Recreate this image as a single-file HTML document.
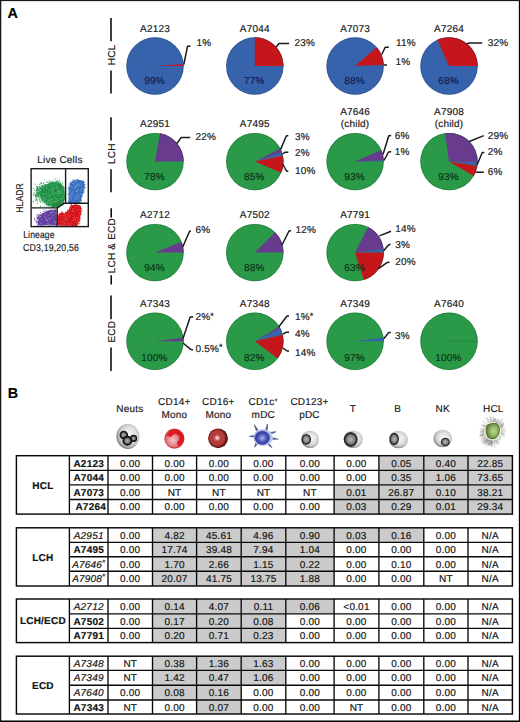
<!DOCTYPE html>
<html><head><meta charset="utf-8"><title>Figure</title>
<style>
html,body{margin:0;padding:0;background:#fff;}
svg{display:block;font-family:'Liberation Sans', sans-serif;text-rendering:geometricPrecision;}
text{letter-spacing:0.2px;stroke:#1a1a1a;stroke-width:0.18px;}
.nost{stroke:none;}
</style></head><body>
<svg width="520" height="722" viewBox="0 0 520 722">
<defs>
<radialGradient id="gSphere" cx="55%" cy="45%" r="56%">
 <stop offset="0" stop-color="#f8f8f8"/><stop offset="0.5" stop-color="#e2e2e2"/><stop offset="0.78" stop-color="#c6c6c6"/><stop offset="0.92" stop-color="#979797"/><stop offset="1" stop-color="#727272"/>
</radialGradient>
<radialGradient id="gNuc" cx="50%" cy="50%" r="50%">
 <stop offset="0" stop-color="#b6b6b6"/><stop offset="0.5" stop-color="#8a8a8a"/><stop offset="0.7" stop-color="#5e5e5e"/><stop offset="0.82" stop-color="#262626"/><stop offset="0.95" stop-color="#2e2e2e"/><stop offset="1" stop-color="#606060"/>
</radialGradient>
<radialGradient id="gLobe" cx="50%" cy="50%" r="50%">
 <stop offset="0" stop-color="#b4b4b4"/><stop offset="0.55" stop-color="#7a7a7a"/><stop offset="0.82" stop-color="#202020"/><stop offset="1" stop-color="#101010"/>
</radialGradient>
<radialGradient id="gCD14" cx="42%" cy="58%" r="58%">
 <stop offset="0" stop-color="#f2c4c8"/><stop offset="0.35" stop-color="#ea98a0"/><stop offset="0.7" stop-color="#e06068"/><stop offset="0.9" stop-color="#d22a32"/><stop offset="1" stop-color="#b81c24"/>
</radialGradient>
<radialGradient id="gCD16" cx="46%" cy="48%" r="52%">
 <stop offset="0" stop-color="#ffffff"/><stop offset="0.1" stop-color="#f0c4c4"/><stop offset="0.25" stop-color="#cc5e5e"/><stop offset="0.45" stop-color="#ac3232"/><stop offset="0.62" stop-color="#bc4444"/><stop offset="0.8" stop-color="#8e2424"/><stop offset="0.92" stop-color="#5e1212"/><stop offset="1" stop-color="#441010"/>
</radialGradient>
<radialGradient id="gCD1c" cx="50%" cy="52%" r="50%">
 <stop offset="0" stop-color="#b8bcf0"/><stop offset="0.3" stop-color="#7880d4"/><stop offset="0.7" stop-color="#3e48aa"/><stop offset="1" stop-color="#36409e"/>
</radialGradient>
<radialGradient id="gCD1cOut" cx="45%" cy="50%" r="50%">
 <stop offset="0.65" stop-color="#8a9ade"/><stop offset="0.85" stop-color="#a8b6ea"/><stop offset="1" stop-color="#c8d0f2"/>
</radialGradient>
<radialGradient id="gHCL" cx="58%" cy="50%" r="58%">
 <stop offset="0" stop-color="#b8d68c"/><stop offset="0.45" stop-color="#98ba6a"/><stop offset="0.8" stop-color="#6e8c48"/><stop offset="1" stop-color="#56723a"/>
</radialGradient>
<radialGradient id="gHalo" cx="50%" cy="50%" r="50%">
 <stop offset="0.5" stop-color="#e6ecda"/><stop offset="1" stop-color="#ffffff" stop-opacity="0"/>
</radialGradient>
</defs>
<rect x="0" y="0" width="520" height="722" fill="#fff"/>

<rect x="0" y="0" width="1.3" height="722" fill="#1a1a1a"/>
<rect x="0" y="0" width="520" height="1.1" fill="#1a1a1a"/>
<rect x="518.85" y="0" width="1.15" height="722" fill="#000"/>
<rect x="0" y="720.5" width="520" height="1.5" fill="#000"/>
<text x="7.5" y="18.0" font-size="14.4" text-anchor="start" font-weight="bold" fill="#000">A</text>
<text x="7.8" y="398.2" font-size="14.4" text-anchor="start" font-weight="bold" fill="#000">B</text>
<line x1="111" y1="18.1" x2="111" y2="41.2" stroke="#000" stroke-width="1.5"/>
<line x1="111" y1="70.5" x2="111" y2="93.5" stroke="#000" stroke-width="1.5"/>
<text transform="translate(114.6,54.900000000000006) rotate(-90)" font-size="10" text-anchor="middle" fill="#1a1a1a">HCL</text>
<line x1="111" y1="117.2" x2="111" y2="140.5" stroke="#000" stroke-width="1.5"/>
<line x1="111" y1="169.2" x2="111" y2="192.3" stroke="#000" stroke-width="1.5"/>
<text transform="translate(114.6,153.64999999999998) rotate(-90)" font-size="10" text-anchor="middle" fill="#1a1a1a">LCH</text>
<line x1="111.2" y1="208.2" x2="111.2" y2="217.4" stroke="#000" stroke-width="1.5"/>
<line x1="111.2" y1="275.3" x2="111.2" y2="284.5" stroke="#000" stroke-width="1.5"/>
<text transform="translate(114.8,245.65) rotate(-90)" font-size="10" text-anchor="middle" fill="#1a1a1a">LCH &amp; ECD</text>
<line x1="111" y1="295.6" x2="111" y2="319.3" stroke="#000" stroke-width="1.5"/>
<line x1="111" y1="347.4" x2="111" y2="371" stroke="#000" stroke-width="1.5"/>
<text transform="translate(114.6,331.75) rotate(-90)" font-size="10" text-anchor="middle" fill="#1a1a1a">ECD</text>
<circle cx="155" cy="66.05" r="28.7" fill="#3763ad"/>
<path d="M155.00,66.05 L183.64,64.25 A28.7,28.7 0 0 1 183.70,66.05 Z" fill="#c5161b"/>
<circle cx="155" cy="66.05" r="28.349999999999998" fill="none" stroke="#000" stroke-opacity="0.2" stroke-width="0.8"/>
<text x="155" y="31.6" font-size="10" text-anchor="middle" fill="#1a1a1a">A2123</text>
<text x="154.5" y="84.19999999999999" font-size="10" text-anchor="middle" fill="#0e1e50" style="stroke:#0e1e50">99%</text>
<text x="196.5" y="46.2" font-size="10" text-anchor="start" fill="#1a1a1a">1%</text>
<polyline points="183.8,64.5 187.5,46.3 190.5,46.3" fill="none" stroke="#1a1a1a" stroke-width="1.5" stroke-linejoin="round" stroke-linecap="butt"/>
<circle cx="254.8" cy="66.05" r="28.7" fill="#3763ad"/>
<path d="M254.80,66.05 L254.80,37.35 A28.7,28.7 0 0 1 283.50,66.05 Z" fill="#c5161b"/>
<circle cx="254.8" cy="66.05" r="28.349999999999998" fill="none" stroke="#000" stroke-opacity="0.2" stroke-width="0.8"/>
<text x="254.8" y="31.6" font-size="10" text-anchor="middle" fill="#1a1a1a">A7044</text>
<text x="254.3" y="84.19999999999999" font-size="10" text-anchor="middle" fill="#0e1e50" style="stroke:#0e1e50">77%</text>
<text x="294.6" y="46.0" font-size="10" text-anchor="start" fill="#1a1a1a">23%</text>
<polyline points="276.2,47 279,43.5 289.2,43.5" fill="none" stroke="#1a1a1a" stroke-width="1.5" stroke-linejoin="round" stroke-linecap="butt"/>
<circle cx="355.1" cy="66.05" r="28.7" fill="#3763ad"/>
<path d="M355.10,66.05 L376.76,47.22 A28.7,28.7 0 0 1 383.77,64.80 Z" fill="#c5161b"/>
<path d="M355.10,66.05 L383.77,64.80 A28.7,28.7 0 0 1 383.80,65.55 Z" fill="#6a4a6a"/>
<circle cx="355.1" cy="66.05" r="28.349999999999998" fill="none" stroke="#000" stroke-opacity="0.2" stroke-width="0.8"/>
<text x="355.1" y="31.6" font-size="10" text-anchor="middle" fill="#1a1a1a">A7073</text>
<text x="354.6" y="84.19999999999999" font-size="10" text-anchor="middle" fill="#0e1e50" style="stroke:#0e1e50">88%</text>
<text x="396" y="45.6" font-size="10" text-anchor="start" fill="#1a1a1a">11%</text>
<text x="395.6" y="64.8" font-size="10" text-anchor="start" fill="#1a1a1a">1%</text>
<polyline points="381.8,54.5 385.2,47.3 388.8,47.3" fill="none" stroke="#1a1a1a" stroke-width="1.5" stroke-linejoin="round" stroke-linecap="butt"/>
<polyline points="383.8,65 387,65" fill="none" stroke="#1a1a1a" stroke-width="1.5" stroke-linejoin="round" stroke-linecap="butt"/>
<circle cx="449" cy="66.05" r="28.7" fill="#3763ad"/>
<path d="M449.00,66.05 L437.33,39.83 A28.7,28.7 0 0 1 477.70,66.05 Z" fill="#c5161b"/>
<circle cx="449" cy="66.05" r="28.349999999999998" fill="none" stroke="#000" stroke-opacity="0.2" stroke-width="0.8"/>
<text x="449" y="31.6" font-size="10" text-anchor="middle" fill="#1a1a1a">A7264</text>
<text x="448.5" y="84.19999999999999" font-size="10" text-anchor="middle" fill="#0e1e50" style="stroke:#0e1e50">68%</text>
<text x="487.7" y="46.0" font-size="10" text-anchor="start" fill="#1a1a1a">32%</text>
<polyline points="466.6,44 469,43 482.2,43" fill="none" stroke="#1a1a1a" stroke-width="1.5" stroke-linejoin="round" stroke-linecap="butt"/>
<circle cx="155" cy="161.6" r="28.7" fill="#2a9a48"/>
<path d="M155.00,161.60 L159.98,133.34 A28.7,28.7 0 0 1 183.70,161.60 Z" fill="#683b8e"/>
<circle cx="155" cy="161.6" r="28.349999999999998" fill="none" stroke="#000" stroke-opacity="0.2" stroke-width="0.8"/>
<text x="155" y="127.0" font-size="10" text-anchor="middle" fill="#1a1a1a">A2951</text>
<text x="154.5" y="180.2" font-size="10" text-anchor="middle" fill="#0b3318" style="stroke:#0b3318">78%</text>
<text x="195.4" y="139.6" font-size="10" text-anchor="start" fill="#1a1a1a">22%</text>
<polyline points="176.8,143.5 181.3,137.4 190.2,137.4" fill="none" stroke="#1a1a1a" stroke-width="1.5" stroke-linejoin="round" stroke-linecap="butt"/>
<circle cx="254.8" cy="161.6" r="28.7" fill="#2a9a48"/>
<path d="M254.80,161.60 L280.37,148.57 A28.7,28.7 0 0 1 281.94,152.26 Z" fill="#683b8e"/>
<path d="M254.80,161.60 L281.94,152.26 A28.7,28.7 0 0 1 282.87,155.63 Z" fill="#3763ad"/>
<path d="M254.80,161.60 L282.87,155.63 A28.7,28.7 0 0 1 281.22,172.81 Z" fill="#c5161b"/>
<circle cx="254.8" cy="161.6" r="28.349999999999998" fill="none" stroke="#000" stroke-opacity="0.2" stroke-width="0.8"/>
<text x="254.8" y="127.0" font-size="10" text-anchor="middle" fill="#1a1a1a">A7495</text>
<text x="254.3" y="180.2" font-size="10" text-anchor="middle" fill="#0b3318" style="stroke:#0b3318">85%</text>
<text x="295" y="139.6" font-size="10" text-anchor="start" fill="#1a1a1a">3%</text>
<text x="295" y="156.0" font-size="10" text-anchor="start" fill="#1a1a1a">2%</text>
<text x="295" y="174.4" font-size="10" text-anchor="start" fill="#1a1a1a">10%</text>
<polyline points="280.6,149.4 286.3,136 288.3,135.5" fill="none" stroke="#1a1a1a" stroke-width="1.5" stroke-linejoin="round" stroke-linecap="butt"/>
<polyline points="282.5,153.8 285,152.3 288.3,152.3" fill="none" stroke="#1a1a1a" stroke-width="1.5" stroke-linejoin="round" stroke-linecap="butt"/>
<polyline points="282.7,164 286.5,171 288.3,171.5" fill="none" stroke="#1a1a1a" stroke-width="1.5" stroke-linejoin="round" stroke-linecap="butt"/>
<circle cx="355.1" cy="161.6" r="28.7" fill="#2a9a48"/>
<path d="M355.10,161.60 L381.32,149.93 A28.7,28.7 0 0 1 383.78,160.50 Z" fill="#683b8e"/>
<path d="M355.10,161.60 L383.78,160.50 A28.7,28.7 0 0 1 383.80,161.60 Z" fill="#3763ad"/>
<circle cx="355.1" cy="161.6" r="28.349999999999998" fill="none" stroke="#000" stroke-opacity="0.2" stroke-width="0.8"/>
<text x="355.1" y="115.1" font-size="10" text-anchor="middle" fill="#1a1a1a">A7646</text>
<text x="355.1" y="127.0" font-size="10" text-anchor="middle" fill="#1a1a1a">(child)</text>
<text x="354.6" y="180.2" font-size="10" text-anchor="middle" fill="#0b3318" style="stroke:#0b3318">93%</text>
<text x="394.8" y="139.1" font-size="10" text-anchor="start" fill="#1a1a1a">6%</text>
<text x="394.8" y="155.4" font-size="10" text-anchor="start" fill="#1a1a1a">1%</text>
<polyline points="383,154.5 388.8,135.8 391.2,135.6" fill="none" stroke="#1a1a1a" stroke-width="1.5" stroke-linejoin="round" stroke-linecap="butt"/>
<polyline points="384,160.5 388.5,152 391.2,151.8" fill="none" stroke="#1a1a1a" stroke-width="1.5" stroke-linejoin="round" stroke-linecap="butt"/>
<circle cx="449" cy="161.6" r="28.7" fill="#2a9a48"/>
<path d="M449.00,161.60 L445.01,133.18 A28.7,28.7 0 0 1 477.68,162.60 Z" fill="#683b8e"/>
<path d="M449.00,161.60 L477.68,162.60 A28.7,28.7 0 0 1 477.35,166.09 Z" fill="#3763ad"/>
<path d="M449.00,161.60 L477.35,166.09 A28.7,28.7 0 0 1 473.85,175.95 Z" fill="#c5161b"/>
<circle cx="449" cy="161.6" r="28.349999999999998" fill="none" stroke="#000" stroke-opacity="0.2" stroke-width="0.8"/>
<text x="449" y="115.1" font-size="10" text-anchor="middle" fill="#1a1a1a">A7908</text>
<text x="449" y="127.0" font-size="10" text-anchor="middle" fill="#1a1a1a">(child)</text>
<text x="448.5" y="180.2" font-size="10" text-anchor="middle" fill="#0b3318" style="stroke:#0b3318">93%</text>
<text x="487.7" y="139.0" font-size="10" text-anchor="start" fill="#1a1a1a">29%</text>
<text x="487.7" y="155.3" font-size="10" text-anchor="start" fill="#1a1a1a">2%</text>
<text x="487.7" y="174.5" font-size="10" text-anchor="start" fill="#1a1a1a">6%</text>
<polyline points="469.3,141.5 483.8,135.6" fill="none" stroke="#1a1a1a" stroke-width="1.5" stroke-linejoin="round" stroke-linecap="butt"/>
<polyline points="477,165 482.3,152.5 484.4,152.5" fill="none" stroke="#1a1a1a" stroke-width="1.5" stroke-linejoin="round" stroke-linecap="butt"/>
<polyline points="475.6,172.2 483.8,172.2" fill="none" stroke="#1a1a1a" stroke-width="1.5" stroke-linejoin="round" stroke-linecap="butt"/>
<circle cx="155" cy="252.6" r="28.7" fill="#2a9a48"/>
<path d="M155.00,252.60 L181.61,241.85 A28.7,28.7 0 0 1 183.70,252.60 Z" fill="#683b8e"/>
<circle cx="155" cy="252.6" r="28.349999999999998" fill="none" stroke="#000" stroke-opacity="0.2" stroke-width="0.8"/>
<text x="155" y="218.4" font-size="10" text-anchor="middle" fill="#1a1a1a">A2712</text>
<text x="154.5" y="271.2" font-size="10" text-anchor="middle" fill="#0b3318" style="stroke:#0b3318">94%</text>
<text x="195.4" y="232.7" font-size="10" text-anchor="start" fill="#1a1a1a">6%</text>
<polyline points="182.7,247 189.6,231.2 190.9,231" fill="none" stroke="#1a1a1a" stroke-width="1.5" stroke-linejoin="round" stroke-linecap="butt"/>
<circle cx="254.8" cy="252.6" r="28.7" fill="#2a9a48"/>
<path d="M254.80,252.60 L275.09,232.31 A28.7,28.7 0 0 1 283.50,252.60 Z" fill="#683b8e"/>
<circle cx="254.8" cy="252.6" r="28.349999999999998" fill="none" stroke="#000" stroke-opacity="0.2" stroke-width="0.8"/>
<text x="254.8" y="218.4" font-size="10" text-anchor="middle" fill="#1a1a1a">A7502</text>
<text x="254.3" y="271.2" font-size="10" text-anchor="middle" fill="#0b3318" style="stroke:#0b3318">88%</text>
<text x="295.5" y="232.6" font-size="10" text-anchor="start" fill="#1a1a1a">12%</text>
<polyline points="282,245 289,231 291,230.8" fill="none" stroke="#1a1a1a" stroke-width="1.5" stroke-linejoin="round" stroke-linecap="butt"/>
<circle cx="355.1" cy="252.6" r="28.7" fill="#2a9a48"/>
<path d="M355.10,252.60 L368.13,227.03 A28.7,28.7 0 0 1 383.59,249.10 Z" fill="#683b8e"/>
<path d="M355.10,252.60 L383.59,249.10 A28.7,28.7 0 0 1 383.80,252.60 Z" fill="#3763ad"/>
<path d="M355.10,252.60 L383.80,252.60 A28.7,28.7 0 0 1 363.97,279.90 Z" fill="#c5161b"/>
<circle cx="355.1" cy="252.6" r="28.349999999999998" fill="none" stroke="#000" stroke-opacity="0.2" stroke-width="0.8"/>
<text x="355.1" y="218.4" font-size="10" text-anchor="middle" fill="#1a1a1a">A7791</text>
<text x="354.6" y="271.2" font-size="10" text-anchor="middle" fill="#0b3318" style="stroke:#0b3318">63%</text>
<text x="395.3" y="232.4" font-size="10" text-anchor="start" fill="#1a1a1a">14%</text>
<text x="395.3" y="248.1" font-size="10" text-anchor="start" fill="#1a1a1a">3%</text>
<text x="395.3" y="265.4" font-size="10" text-anchor="start" fill="#1a1a1a">20%</text>
<polyline points="379.4,235.9 391,231.3" fill="none" stroke="#1a1a1a" stroke-width="1.5" stroke-linejoin="round" stroke-linecap="butt"/>
<polyline points="383.7,250.8 388.5,245 390.5,244.2" fill="none" stroke="#1a1a1a" stroke-width="1.5" stroke-linejoin="round" stroke-linecap="butt"/>
<polyline points="378.5,268.6 387,262.6 389.5,262.3" fill="none" stroke="#1a1a1a" stroke-width="1.5" stroke-linejoin="round" stroke-linecap="butt"/>
<circle cx="155" cy="341.3" r="28.7" fill="#2a9a48"/>
<path d="M155.00,341.30 L183.49,337.80 A28.7,28.7 0 0 1 183.70,341.30 Z" fill="#683b8e"/>
<circle cx="155" cy="341.3" r="28.349999999999998" fill="none" stroke="#000" stroke-opacity="0.2" stroke-width="0.8"/>
<text x="155" y="307.2" font-size="10" text-anchor="middle" fill="#1a1a1a">A7343</text>
<text x="154.5" y="361.2" font-size="10" text-anchor="middle" fill="#0b3318" style="stroke:#0b3318">100%</text>
<text x="195.4" y="320.4" font-size="10" text-anchor="start" fill="#1a1a1a">2%<tspan font-size="9" dy="-1.8">*</tspan></text>
<text x="195.4" y="351.9" font-size="10" text-anchor="start" fill="#1a1a1a">0.5%<tspan font-size="9" dy="-1.8">*</tspan></text>
<polyline points="183,338.5 190.2,317 193,317" fill="none" stroke="#1a1a1a" stroke-width="1.5" stroke-linejoin="round" stroke-linecap="butt"/>
<polyline points="183,343 191,349.6 193,349.8" fill="none" stroke="#1a1a1a" stroke-width="1.5" stroke-linejoin="round" stroke-linecap="butt"/>
<circle cx="254.8" cy="341.3" r="28.7" fill="#2a9a48"/>
<path d="M254.80,341.30 L279.40,326.52 A28.7,28.7 0 0 1 280.37,328.27 Z" fill="#683b8e"/>
<path d="M254.80,341.30 L280.37,328.27 A28.7,28.7 0 0 1 282.76,334.84 Z" fill="#3763ad"/>
<path d="M254.80,341.30 L282.76,334.84 A28.7,28.7 0 0 1 277.72,358.57 Z" fill="#c5161b"/>
<circle cx="254.8" cy="341.3" r="28.349999999999998" fill="none" stroke="#000" stroke-opacity="0.2" stroke-width="0.8"/>
<text x="254.8" y="307.2" font-size="10" text-anchor="middle" fill="#1a1a1a">A7348</text>
<text x="254.3" y="361.2" font-size="10" text-anchor="middle" fill="#0b3318" style="stroke:#0b3318">82%</text>
<text x="295" y="320.4" font-size="10" text-anchor="start" fill="#1a1a1a">1%<tspan font-size="9" dy="-1.8">*</tspan></text>
<text x="295" y="336.5" font-size="10" text-anchor="start" fill="#1a1a1a">4%</text>
<text x="295" y="355.5" font-size="10" text-anchor="start" fill="#1a1a1a">14%</text>
<polyline points="278.7,327 287,316 289,316" fill="none" stroke="#1a1a1a" stroke-width="1.5" stroke-linejoin="round" stroke-linecap="butt"/>
<polyline points="283,334 286,332.3 289,332.3" fill="none" stroke="#1a1a1a" stroke-width="1.5" stroke-linejoin="round" stroke-linecap="butt"/>
<polyline points="283,348 287,351 289,351" fill="none" stroke="#1a1a1a" stroke-width="1.5" stroke-linejoin="round" stroke-linecap="butt"/>
<circle cx="355.1" cy="341.3" r="28.7" fill="#2a9a48"/>
<path d="M355.10,341.30 L383.55,337.55 A28.7,28.7 0 0 1 383.80,341.30 Z" fill="#3763ad"/>
<circle cx="355.1" cy="341.3" r="28.349999999999998" fill="none" stroke="#000" stroke-opacity="0.2" stroke-width="0.8"/>
<text x="355.1" y="307.2" font-size="10" text-anchor="middle" fill="#1a1a1a">A7349</text>
<text x="354.6" y="361.2" font-size="10" text-anchor="middle" fill="#0b3318" style="stroke:#0b3318">97%</text>
<text x="395" y="338.5" font-size="10" text-anchor="start" fill="#1a1a1a">3%</text>
<polyline points="383.8,338.8 388.6,332.6 390.8,332.5" fill="none" stroke="#1a1a1a" stroke-width="1.5" stroke-linejoin="round" stroke-linecap="butt"/>
<circle cx="449" cy="341.3" r="28.7" fill="#2a9a48"/>
<circle cx="449" cy="341.3" r="28.349999999999998" fill="none" stroke="#000" stroke-opacity="0.2" stroke-width="0.8"/>
<line x1="449" y1="341.3" x2="477.7" y2="341.3" stroke="#000" stroke-opacity="0.18" stroke-width="0.7"/>
<text x="449" y="307.2" font-size="10" text-anchor="middle" fill="#1a1a1a">A7640</text>
<text x="448.5" y="361.2" font-size="10" text-anchor="middle" fill="#0b3318" style="stroke:#0b3318">100%</text>
<text x="60" y="163.3" font-size="10" text-anchor="middle" fill="#1a1a1a">Live Cells</text>
<text transform="translate(23.4,197.9) rotate(-90) scale(0.85,1)" font-size="10" text-anchor="middle" fill="#1a1a1a">HLADR</text>
<text transform="translate(23.2,238.1) scale(0.85,1)" font-size="10" fill="#1a1a1a">Lineage</text>
<text transform="translate(23.0,250.6) scale(0.875,1)" font-size="10" fill="#1a1a1a">CD3,19,20,56</text>
<path d="M45.5,185.8 L50.2,183 L56.5,182.4 L61,184.6 L63.8,189 L64.4,196.8 L63.4,202.4 L58.8,206.4 L53.1,206.8 L47.6,204.6 L44.2,200.3 L42.2,194.5 L43.2,189 Z" fill="#23964a" stroke="#23964a" stroke-width="1.2" stroke-linejoin="round"/>
<g fill="#23964a"><circle cx="63.1" cy="202.4" r="0.45"/><circle cx="49.9" cy="205.1" r="0.45"/><circle cx="60.6" cy="185.0" r="0.45"/><circle cx="55.4" cy="183.3" r="0.45"/><circle cx="62.3" cy="187.1" r="0.45"/><circle cx="46.7" cy="202.8" r="0.45"/><circle cx="58.2" cy="183.6" r="0.45"/><circle cx="63.9" cy="192.8" r="0.45"/><circle cx="44.2" cy="203.1" r="0.45"/><circle cx="52.6" cy="181.5" r="0.45"/><circle cx="56.7" cy="207.4" r="0.45"/><circle cx="42.2" cy="187.4" r="0.45"/><circle cx="62.7" cy="204.7" r="0.45"/><circle cx="54.1" cy="183.8" r="0.45"/><circle cx="56.9" cy="206.4" r="0.45"/><circle cx="50.8" cy="204.7" r="0.45"/><circle cx="40.1" cy="192.6" r="0.45"/><circle cx="57.0" cy="182.0" r="0.45"/><circle cx="43.9" cy="198.7" r="0.45"/><circle cx="44.7" cy="199.3" r="0.45"/><circle cx="64.6" cy="198.1" r="0.45"/><circle cx="43.8" cy="186.7" r="0.45"/><circle cx="56.7" cy="207.0" r="0.45"/><circle cx="60.9" cy="183.3" r="0.45"/><circle cx="58.3" cy="205.1" r="0.45"/><circle cx="61.9" cy="186.2" r="0.45"/><circle cx="61.5" cy="183.9" r="0.45"/><circle cx="62.6" cy="189.7" r="0.45"/><circle cx="48.5" cy="205.2" r="0.45"/><circle cx="45.3" cy="200.2" r="0.45"/><circle cx="44.6" cy="184.3" r="0.45"/><circle cx="63.1" cy="205.2" r="0.45"/><circle cx="47.9" cy="185.1" r="0.45"/><circle cx="52.4" cy="182.8" r="0.45"/><circle cx="60.7" cy="183.0" r="0.45"/><circle cx="55.1" cy="182.0" r="0.45"/><circle cx="63.1" cy="195.5" r="0.45"/><circle cx="57.1" cy="182.4" r="0.45"/><circle cx="42.9" cy="192.3" r="0.45"/><circle cx="47.7" cy="184.8" r="0.45"/><circle cx="44.4" cy="191.8" r="0.45"/><circle cx="42.1" cy="194.3" r="0.45"/><circle cx="62.9" cy="202.7" r="0.45"/><circle cx="48.3" cy="206.0" r="0.45"/><circle cx="45.1" cy="185.6" r="0.45"/><circle cx="63.2" cy="187.2" r="0.45"/><circle cx="49.9" cy="201.5" r="0.45"/><circle cx="43.7" cy="190.3" r="0.45"/><circle cx="62.1" cy="195.8" r="0.45"/><circle cx="46.3" cy="182.4" r="0.45"/><circle cx="56.5" cy="183.4" r="0.45"/><circle cx="42.1" cy="190.5" r="0.45"/><circle cx="47.6" cy="188.7" r="0.45"/><circle cx="39.8" cy="194.3" r="0.45"/><circle cx="42.7" cy="193.6" r="0.45"/><circle cx="44.8" cy="200.0" r="0.45"/><circle cx="43.6" cy="199.3" r="0.45"/><circle cx="52.6" cy="205.9" r="0.45"/><circle cx="39.6" cy="190.4" r="0.45"/><circle cx="46.4" cy="186.1" r="0.45"/><circle cx="43.9" cy="202.5" r="0.45"/><circle cx="48.8" cy="184.5" r="0.45"/><circle cx="42.2" cy="200.8" r="0.45"/><circle cx="52.5" cy="205.2" r="0.45"/><circle cx="55.1" cy="183.2" r="0.45"/><circle cx="52.0" cy="205.1" r="0.45"/><circle cx="62.1" cy="185.6" r="0.45"/><circle cx="55.8" cy="203.5" r="0.45"/><circle cx="58.8" cy="206.2" r="0.45"/><circle cx="61.3" cy="188.2" r="0.45"/><circle cx="53.6" cy="183.0" r="0.45"/><circle cx="64.9" cy="194.6" r="0.45"/><circle cx="42.1" cy="191.8" r="0.45"/><circle cx="61.5" cy="187.9" r="0.45"/><circle cx="59.9" cy="186.0" r="0.45"/><circle cx="63.6" cy="199.6" r="0.45"/><circle cx="63.0" cy="196.4" r="0.45"/><circle cx="46.1" cy="184.6" r="0.45"/><circle cx="51.8" cy="182.4" r="0.45"/><circle cx="50.3" cy="186.0" r="0.45"/><circle cx="58.7" cy="184.1" r="0.45"/><circle cx="42.5" cy="196.3" r="0.45"/><circle cx="49.8" cy="205.0" r="0.45"/><circle cx="50.5" cy="186.3" r="0.45"/><circle cx="62.7" cy="194.4" r="0.45"/><circle cx="54.2" cy="183.7" r="0.45"/><circle cx="52.1" cy="184.2" r="0.45"/><circle cx="56.2" cy="183.3" r="0.45"/><circle cx="63.2" cy="193.7" r="0.45"/><circle cx="50.4" cy="183.1" r="0.45"/><circle cx="50.7" cy="207.1" r="0.45"/><circle cx="58.8" cy="205.1" r="0.45"/><circle cx="58.5" cy="204.2" r="0.45"/><circle cx="45.6" cy="193.7" r="0.45"/><circle cx="51.4" cy="183.6" r="0.45"/><circle cx="58.9" cy="204.9" r="0.45"/><circle cx="63.8" cy="187.9" r="0.45"/><circle cx="63.8" cy="196.0" r="0.45"/><circle cx="54.1" cy="206.7" r="0.45"/><circle cx="63.4" cy="186.2" r="0.45"/><circle cx="56.6" cy="205.6" r="0.45"/><circle cx="43.2" cy="189.6" r="0.45"/><circle cx="59.8" cy="205.5" r="0.45"/><circle cx="42.3" cy="198.1" r="0.45"/><circle cx="45.5" cy="187.0" r="0.45"/><circle cx="44.4" cy="206.5" r="0.45"/><circle cx="57.2" cy="182.5" r="0.45"/><circle cx="41.5" cy="188.0" r="0.45"/><circle cx="46.3" cy="186.1" r="0.45"/><circle cx="45.6" cy="198.5" r="0.45"/><circle cx="44.0" cy="197.8" r="0.45"/><circle cx="44.5" cy="199.1" r="0.45"/><circle cx="62.3" cy="203.2" r="0.45"/><circle cx="47.0" cy="182.5" r="0.45"/><circle cx="56.8" cy="206.6" r="0.45"/><circle cx="49.6" cy="205.8" r="0.45"/><circle cx="42.9" cy="191.0" r="0.45"/><circle cx="64.0" cy="189.8" r="0.45"/><circle cx="40.9" cy="194.7" r="0.45"/><circle cx="53.5" cy="207.2" r="0.45"/><circle cx="43.6" cy="196.9" r="0.45"/><circle cx="63.5" cy="192.3" r="0.45"/><circle cx="57.6" cy="182.8" r="0.45"/><circle cx="44.3" cy="201.3" r="0.45"/><circle cx="41.2" cy="192.0" r="0.45"/><circle cx="55.3" cy="182.0" r="0.45"/><circle cx="57.6" cy="182.6" r="0.45"/><circle cx="46.7" cy="205.0" r="0.45"/><circle cx="64.1" cy="188.4" r="0.45"/><circle cx="47.7" cy="182.4" r="0.45"/><circle cx="58.4" cy="182.9" r="0.45"/><circle cx="55.0" cy="185.5" r="0.45"/><circle cx="43.1" cy="198.4" r="0.45"/><circle cx="64.9" cy="199.8" r="0.45"/><circle cx="64.0" cy="200.4" r="0.45"/><circle cx="63.9" cy="187.1" r="0.45"/><circle cx="62.2" cy="199.0" r="0.45"/><circle cx="51.5" cy="183.3" r="0.45"/><circle cx="48.8" cy="185.7" r="0.45"/><circle cx="42.3" cy="196.0" r="0.45"/><circle cx="51.7" cy="203.7" r="0.45"/><circle cx="60.1" cy="204.1" r="0.45"/><circle cx="50.0" cy="205.2" r="0.45"/><circle cx="42.0" cy="191.7" r="0.45"/><circle cx="58.0" cy="184.4" r="0.45"/><circle cx="42.1" cy="189.3" r="0.45"/><circle cx="60.5" cy="185.4" r="0.45"/><circle cx="60.9" cy="184.6" r="0.45"/><circle cx="44.9" cy="190.4" r="0.45"/><circle cx="44.8" cy="188.3" r="0.45"/><circle cx="50.1" cy="182.5" r="0.45"/><circle cx="61.5" cy="197.0" r="0.45"/><circle cx="41.4" cy="191.3" r="0.45"/><circle cx="61.8" cy="186.7" r="0.45"/><circle cx="62.8" cy="195.1" r="0.45"/><circle cx="50.3" cy="204.7" r="0.45"/><circle cx="62.8" cy="197.3" r="0.45"/><circle cx="60.7" cy="203.9" r="0.45"/><circle cx="44.0" cy="186.5" r="0.45"/><circle cx="44.3" cy="187.5" r="0.45"/><circle cx="60.7" cy="205.4" r="0.45"/><circle cx="53.3" cy="207.5" r="0.45"/><circle cx="57.8" cy="182.6" r="0.45"/><circle cx="44.6" cy="188.2" r="0.45"/><circle cx="56.0" cy="183.3" r="0.45"/><circle cx="64.8" cy="187.6" r="0.45"/><circle cx="57.8" cy="183.5" r="0.45"/><circle cx="45.0" cy="189.4" r="0.45"/><circle cx="46.8" cy="206.2" r="0.45"/><circle cx="45.1" cy="187.2" r="0.45"/><circle cx="64.9" cy="199.3" r="0.45"/><circle cx="63.9" cy="187.3" r="0.45"/><circle cx="45.2" cy="198.7" r="0.45"/><circle cx="43.8" cy="197.0" r="0.45"/><circle cx="59.2" cy="206.5" r="0.45"/><circle cx="62.8" cy="201.9" r="0.45"/><circle cx="49.1" cy="181.9" r="0.45"/><circle cx="63.1" cy="189.1" r="0.45"/><circle cx="62.1" cy="187.9" r="0.45"/><circle cx="62.5" cy="188.5" r="0.45"/><circle cx="62.8" cy="186.5" r="0.45"/><circle cx="46.3" cy="204.6" r="0.45"/><circle cx="47.6" cy="204.1" r="0.45"/><circle cx="61.0" cy="203.0" r="0.45"/><circle cx="57.6" cy="181.9" r="0.45"/><circle cx="57.9" cy="183.6" r="0.45"/><circle cx="63.2" cy="195.1" r="0.45"/><circle cx="64.4" cy="199.6" r="0.45"/><circle cx="53.1" cy="182.6" r="0.45"/><circle cx="42.1" cy="190.4" r="0.45"/><circle cx="45.7" cy="188.1" r="0.45"/><circle cx="62.7" cy="200.2" r="0.45"/><circle cx="44.5" cy="189.8" r="0.45"/><circle cx="43.5" cy="187.8" r="0.45"/><circle cx="59.4" cy="205.9" r="0.45"/><circle cx="41.2" cy="193.3" r="0.45"/><circle cx="62.6" cy="201.4" r="0.45"/><circle cx="43.9" cy="190.2" r="0.45"/><circle cx="44.7" cy="189.3" r="0.45"/><circle cx="50.5" cy="184.6" r="0.45"/><circle cx="52.6" cy="207.5" r="0.45"/><circle cx="60.8" cy="206.9" r="0.45"/><circle cx="49.1" cy="181.0" r="0.45"/><circle cx="43.8" cy="191.3" r="0.45"/><circle cx="56.9" cy="206.0" r="0.45"/><circle cx="62.9" cy="187.5" r="0.45"/><circle cx="43.0" cy="199.7" r="0.45"/><circle cx="60.4" cy="205.8" r="0.45"/><circle cx="47.8" cy="184.9" r="0.45"/><circle cx="41.4" cy="198.4" r="0.45"/><circle cx="44.1" cy="187.6" r="0.45"/><circle cx="46.7" cy="204.5" r="0.45"/><circle cx="57.4" cy="207.3" r="0.45"/><circle cx="47.9" cy="204.2" r="0.45"/><circle cx="62.7" cy="189.4" r="0.45"/><circle cx="43.4" cy="197.6" r="0.45"/><circle cx="63.7" cy="188.1" r="0.45"/><circle cx="48.4" cy="204.5" r="0.45"/><circle cx="58.4" cy="185.8" r="0.45"/><circle cx="44.4" cy="184.4" r="0.45"/><circle cx="60.9" cy="185.1" r="0.45"/><circle cx="63.5" cy="186.2" r="0.45"/><circle cx="48.2" cy="184.2" r="0.45"/><circle cx="47.3" cy="205.6" r="0.45"/><circle cx="48.3" cy="207.1" r="0.45"/><circle cx="42.7" cy="196.6" r="0.45"/><circle cx="57.7" cy="187.4" r="0.45"/><circle cx="44.7" cy="198.2" r="0.45"/><circle cx="44.4" cy="200.9" r="0.45"/><circle cx="44.9" cy="186.5" r="0.45"/><circle cx="44.0" cy="191.7" r="0.45"/><circle cx="59.0" cy="182.0" r="0.45"/><circle cx="64.1" cy="199.6" r="0.45"/><circle cx="52.8" cy="205.2" r="0.45"/><circle cx="44.3" cy="203.1" r="0.45"/><circle cx="58.5" cy="183.9" r="0.45"/><circle cx="48.4" cy="183.1" r="0.45"/><circle cx="46.0" cy="190.8" r="0.45"/><circle cx="55.5" cy="205.3" r="0.45"/><circle cx="54.0" cy="180.7" r="0.45"/><circle cx="60.6" cy="182.3" r="0.45"/><circle cx="45.1" cy="200.2" r="0.45"/><circle cx="61.9" cy="184.5" r="0.45"/><circle cx="64.3" cy="199.7" r="0.45"/><circle cx="58.9" cy="183.9" r="0.45"/><circle cx="48.0" cy="185.2" r="0.45"/><circle cx="54.8" cy="205.8" r="0.45"/><circle cx="62.0" cy="205.0" r="0.45"/><circle cx="63.7" cy="199.4" r="0.45"/><circle cx="42.8" cy="200.7" r="0.45"/><circle cx="44.1" cy="201.5" r="0.45"/><circle cx="57.7" cy="207.1" r="0.45"/><circle cx="62.7" cy="197.9" r="0.45"/><circle cx="47.9" cy="188.0" r="0.45"/><circle cx="63.2" cy="201.1" r="0.45"/><circle cx="46.8" cy="202.8" r="0.45"/><circle cx="51.8" cy="183.3" r="0.45"/><circle cx="53.0" cy="182.7" r="0.45"/><circle cx="46.6" cy="188.2" r="0.45"/><circle cx="59.8" cy="186.8" r="0.45"/><circle cx="45.9" cy="200.9" r="0.55"/><circle cx="40.4" cy="201.0" r="0.55"/><circle cx="44.3" cy="197.1" r="0.55"/><circle cx="43.8" cy="191.5" r="0.55"/><circle cx="41.1" cy="198.2" r="0.55"/><circle cx="41.1" cy="194.1" r="0.55"/><circle cx="42.4" cy="195.4" r="0.55"/><circle cx="46.8" cy="190.4" r="0.55"/><circle cx="43.3" cy="191.4" r="0.55"/><circle cx="41.9" cy="190.9" r="0.55"/><circle cx="36.2" cy="191.8" r="0.55"/><circle cx="36.6" cy="199.9" r="0.55"/><circle cx="36.8" cy="191.0" r="0.55"/><circle cx="42.8" cy="191.6" r="0.55"/><circle cx="46.9" cy="192.7" r="0.55"/><circle cx="36.2" cy="197.8" r="0.55"/><circle cx="40.4" cy="206.4" r="0.55"/><circle cx="38.3" cy="191.1" r="0.55"/><circle cx="41.9" cy="188.3" r="0.55"/><circle cx="44.3" cy="199.5" r="0.55"/><circle cx="48.2" cy="195.4" r="0.55"/><circle cx="41.4" cy="199.3" r="0.55"/><circle cx="46.5" cy="192.4" r="0.55"/><circle cx="39.8" cy="189.7" r="0.55"/><circle cx="42.5" cy="193.0" r="0.55"/><circle cx="44.6" cy="197.9" r="0.55"/><circle cx="37.4" cy="195.2" r="0.55"/><circle cx="43.1" cy="191.6" r="0.55"/><circle cx="42.3" cy="199.3" r="0.55"/><circle cx="41.8" cy="193.0" r="0.55"/><circle cx="40.4" cy="194.6" r="0.55"/><circle cx="39.8" cy="195.5" r="0.55"/><circle cx="37.1" cy="190.1" r="0.55"/><circle cx="43.0" cy="198.9" r="0.55"/><circle cx="39.5" cy="193.4" r="0.55"/><circle cx="44.1" cy="191.7" r="0.55"/><circle cx="42.5" cy="194.6" r="0.55"/><circle cx="36.5" cy="186.2" r="0.55"/><circle cx="42.3" cy="188.6" r="0.55"/><circle cx="41.4" cy="193.7" r="0.55"/><circle cx="38.5" cy="188.5" r="0.55"/><circle cx="38.3" cy="198.1" r="0.55"/><circle cx="41.2" cy="189.7" r="0.55"/><circle cx="42.4" cy="192.2" r="0.55"/><circle cx="37.7" cy="192.1" r="0.55"/><circle cx="41.6" cy="194.5" r="0.55"/><circle cx="41.6" cy="192.3" r="0.55"/><circle cx="43.1" cy="195.3" r="0.55"/><circle cx="38.0" cy="189.7" r="0.55"/><circle cx="37.1" cy="186.7" r="0.55"/><circle cx="43.0" cy="196.4" r="0.55"/><circle cx="41.1" cy="194.3" r="0.55"/><circle cx="46.6" cy="188.1" r="0.55"/><circle cx="41.4" cy="192.5" r="0.55"/><circle cx="45.0" cy="187.0" r="0.55"/><circle cx="35.4" cy="194.6" r="0.55"/><circle cx="38.9" cy="193.9" r="0.55"/><circle cx="43.7" cy="195.0" r="0.55"/><circle cx="44.8" cy="194.0" r="0.55"/><circle cx="41.5" cy="186.2" r="0.55"/><circle cx="44.9" cy="187.3" r="0.55"/><circle cx="41.0" cy="198.6" r="0.55"/><circle cx="35.3" cy="196.0" r="0.55"/><circle cx="38.5" cy="192.5" r="0.55"/><circle cx="35.3" cy="184.1" r="0.55"/><circle cx="43.1" cy="201.9" r="0.55"/><circle cx="44.4" cy="193.3" r="0.55"/><circle cx="42.0" cy="200.2" r="0.55"/><circle cx="47.4" cy="190.5" r="0.55"/><circle cx="37.9" cy="201.0" r="0.55"/><circle cx="40.2" cy="195.9" r="0.55"/><circle cx="46.0" cy="189.6" r="0.55"/><circle cx="39.5" cy="186.9" r="0.55"/><circle cx="45.7" cy="192.3" r="0.55"/><circle cx="44.6" cy="187.2" r="0.55"/><circle cx="44.0" cy="189.3" r="0.55"/><circle cx="40.7" cy="187.4" r="0.55"/><circle cx="40.6" cy="195.8" r="0.55"/><circle cx="40.4" cy="191.8" r="0.55"/><circle cx="43.3" cy="191.7" r="0.55"/><circle cx="43.3" cy="193.4" r="0.55"/><circle cx="44.7" cy="191.3" r="0.55"/><circle cx="42.1" cy="193.8" r="0.55"/><circle cx="47.1" cy="194.7" r="0.55"/><circle cx="37.6" cy="187.9" r="0.55"/><circle cx="41.4" cy="191.4" r="0.55"/><circle cx="38.5" cy="190.7" r="0.55"/><circle cx="44.4" cy="185.6" r="0.55"/><circle cx="42.6" cy="192.0" r="0.55"/><circle cx="47.2" cy="185.8" r="0.55"/><circle cx="43.2" cy="192.3" r="0.55"/><circle cx="42.0" cy="195.1" r="0.55"/><circle cx="48.7" cy="194.8" r="0.55"/><circle cx="43.5" cy="187.2" r="0.55"/><circle cx="43.9" cy="187.5" r="0.55"/><circle cx="41.1" cy="195.0" r="0.55"/><circle cx="46.7" cy="197.3" r="0.55"/><circle cx="42.4" cy="196.7" r="0.55"/><circle cx="40.8" cy="193.4" r="0.55"/><circle cx="41.4" cy="196.6" r="0.55"/><circle cx="40.7" cy="188.9" r="0.55"/><circle cx="37.3" cy="203.2" r="0.55"/><circle cx="34.1" cy="192.8" r="0.55"/><circle cx="40.8" cy="192.3" r="0.55"/><circle cx="38.0" cy="195.5" r="0.55"/><circle cx="42.0" cy="189.0" r="0.55"/><circle cx="40.2" cy="187.8" r="0.55"/><circle cx="43.1" cy="201.6" r="0.55"/><circle cx="47.4" cy="197.4" r="0.55"/><circle cx="41.6" cy="193.2" r="0.55"/><circle cx="43.4" cy="200.1" r="0.55"/><circle cx="41.9" cy="192.9" r="0.55"/><circle cx="37.1" cy="193.3" r="0.55"/><circle cx="42.2" cy="190.3" r="0.55"/><circle cx="38.0" cy="193.1" r="0.55"/><circle cx="43.0" cy="190.0" r="0.55"/><circle cx="44.4" cy="191.8" r="0.55"/><circle cx="42.8" cy="199.7" r="0.55"/><circle cx="39.7" cy="193.0" r="0.55"/><circle cx="40.5" cy="191.6" r="0.55"/><circle cx="42.9" cy="186.4" r="0.55"/><circle cx="42.7" cy="187.0" r="0.55"/><circle cx="39.1" cy="196.5" r="0.55"/><circle cx="35.2" cy="198.7" r="0.55"/><circle cx="48.3" cy="197.7" r="0.55"/><circle cx="44.0" cy="193.5" r="0.55"/><circle cx="40.8" cy="202.4" r="0.55"/><circle cx="37.8" cy="193.0" r="0.55"/><circle cx="43.6" cy="190.9" r="0.55"/><circle cx="37.0" cy="194.3" r="0.55"/><circle cx="41.7" cy="185.6" r="0.55"/><circle cx="39.4" cy="189.8" r="0.55"/><circle cx="40.5" cy="195.3" r="0.55"/><circle cx="44.6" cy="187.6" r="0.55"/><circle cx="41.4" cy="190.3" r="0.55"/><circle cx="35.4" cy="195.8" r="0.55"/><circle cx="39.8" cy="191.9" r="0.55"/><circle cx="33.8" cy="195.2" r="0.55"/><circle cx="41.7" cy="195.9" r="0.55"/><circle cx="39.6" cy="199.5" r="0.55"/><circle cx="42.7" cy="190.9" r="0.55"/><circle cx="43.1" cy="195.8" r="0.55"/><circle cx="39.4" cy="197.7" r="0.55"/><circle cx="43.3" cy="196.3" r="0.55"/><circle cx="45.3" cy="204.1" r="0.55"/><circle cx="41.3" cy="191.0" r="0.55"/><circle cx="43.2" cy="192.5" r="0.55"/><circle cx="33.3" cy="201.4" r="0.55"/><circle cx="43.2" cy="186.1" r="0.55"/><circle cx="39.2" cy="194.2" r="0.55"/><circle cx="40.3" cy="191.4" r="0.55"/><circle cx="42.5" cy="197.2" r="0.55"/><circle cx="45.2" cy="193.9" r="0.55"/><circle cx="43.0" cy="186.5" r="0.55"/><circle cx="36.1" cy="193.0" r="0.55"/><circle cx="39.5" cy="193.6" r="0.55"/><circle cx="38.4" cy="190.3" r="0.55"/><circle cx="41.0" cy="183.4" r="0.55"/><circle cx="37.0" cy="195.4" r="0.55"/><circle cx="41.5" cy="188.4" r="0.55"/><circle cx="42.3" cy="200.0" r="0.55"/><circle cx="46.3" cy="187.8" r="0.55"/><circle cx="39.2" cy="184.8" r="0.55"/><circle cx="39.2" cy="187.3" r="0.55"/><circle cx="38.3" cy="194.1" r="0.55"/><circle cx="40.3" cy="191.6" r="0.55"/><circle cx="35.7" cy="196.7" r="0.55"/><circle cx="40.3" cy="187.0" r="0.55"/><circle cx="41.5" cy="197.6" r="0.55"/><circle cx="36.4" cy="194.7" r="0.55"/><circle cx="36.7" cy="196.6" r="0.55"/><circle cx="43.7" cy="191.8" r="0.55"/><circle cx="37.8" cy="186.7" r="0.55"/><circle cx="38.1" cy="196.3" r="0.55"/><circle cx="42.5" cy="192.8" r="0.55"/><circle cx="39.3" cy="192.3" r="0.55"/><circle cx="43.3" cy="182.8" r="0.55"/><circle cx="39.8" cy="192.8" r="0.55"/><circle cx="37.3" cy="190.5" r="0.55"/><circle cx="40.6" cy="187.8" r="0.55"/><circle cx="36.9" cy="186.7" r="0.55"/><circle cx="37.6" cy="192.4" r="0.55"/><circle cx="44.0" cy="192.0" r="0.55"/><circle cx="40.0" cy="189.0" r="0.55"/><circle cx="41.7" cy="190.8" r="0.55"/><circle cx="45.0" cy="192.6" r="0.55"/><circle cx="44.4" cy="194.2" r="0.55"/><circle cx="41.0" cy="193.4" r="0.55"/><circle cx="38.0" cy="195.3" r="0.55"/><circle cx="40.4" cy="189.1" r="0.55"/><circle cx="41.2" cy="196.1" r="0.55"/><circle cx="41.0" cy="182.6" r="0.55"/><circle cx="38.9" cy="192.5" r="0.55"/><circle cx="42.7" cy="188.8" r="0.55"/><circle cx="42.0" cy="195.2" r="0.55"/><circle cx="42.7" cy="185.1" r="0.55"/><circle cx="38.7" cy="189.3" r="0.55"/><circle cx="39.0" cy="191.8" r="0.55"/><circle cx="45.0" cy="192.1" r="0.55"/><circle cx="37.0" cy="186.8" r="0.55"/><circle cx="43.2" cy="188.5" r="0.55"/><circle cx="40.2" cy="198.3" r="0.55"/><circle cx="46.6" cy="198.9" r="0.55"/><circle cx="37.0" cy="199.8" r="0.55"/><circle cx="41.1" cy="197.2" r="0.55"/><circle cx="41.4" cy="197.6" r="0.55"/><circle cx="41.6" cy="193.3" r="0.55"/><circle cx="41.0" cy="189.5" r="0.55"/><circle cx="41.6" cy="196.7" r="0.55"/><circle cx="37.5" cy="193.6" r="0.55"/><circle cx="37.9" cy="188.1" r="0.55"/><circle cx="35.8" cy="200.7" r="0.55"/><circle cx="42.3" cy="191.8" r="0.55"/><circle cx="45.4" cy="184.6" r="0.55"/><circle cx="41.9" cy="190.6" r="0.55"/><circle cx="44.1" cy="187.6" r="0.55"/><circle cx="42.1" cy="193.1" r="0.55"/><circle cx="46.8" cy="191.1" r="0.55"/><circle cx="41.5" cy="195.0" r="0.55"/><circle cx="43.2" cy="195.5" r="0.55"/><circle cx="42.1" cy="189.0" r="0.55"/><circle cx="46.2" cy="200.8" r="0.55"/><circle cx="42.1" cy="190.4" r="0.55"/><circle cx="45.5" cy="189.2" r="0.55"/><circle cx="42.6" cy="186.6" r="0.55"/><circle cx="46.8" cy="188.2" r="0.55"/><circle cx="42.8" cy="190.5" r="0.55"/><circle cx="39.9" cy="187.9" r="0.55"/><circle cx="41.3" cy="188.3" r="0.55"/><circle cx="45.1" cy="189.2" r="0.55"/><circle cx="41.2" cy="196.2" r="0.55"/><circle cx="44.3" cy="196.9" r="0.55"/><circle cx="45.5" cy="194.8" r="0.55"/><circle cx="44.2" cy="197.0" r="0.55"/><circle cx="36.8" cy="193.1" r="0.55"/><circle cx="41.8" cy="192.6" r="0.55"/><circle cx="43.8" cy="188.8" r="0.55"/><circle cx="36.3" cy="190.5" r="0.55"/><circle cx="43.5" cy="189.4" r="0.55"/><circle cx="46.3" cy="195.9" r="0.55"/><circle cx="40.9" cy="192.2" r="0.55"/><circle cx="37.1" cy="188.8" r="0.55"/><circle cx="44.6" cy="191.4" r="0.55"/><circle cx="46.0" cy="192.4" r="0.55"/><circle cx="33.4" cy="193.9" r="0.55"/><circle cx="47.4" cy="194.5" r="0.55"/><circle cx="39.1" cy="190.2" r="0.55"/><circle cx="43.8" cy="189.8" r="0.55"/><circle cx="36.9" cy="193.9" r="0.55"/><circle cx="41.8" cy="190.0" r="0.55"/><circle cx="37.8" cy="194.8" r="0.55"/><circle cx="34.8" cy="190.3" r="0.55"/><circle cx="39.6" cy="201.0" r="0.55"/><circle cx="37.8" cy="196.0" r="0.55"/><circle cx="40.9" cy="198.2" r="0.55"/><circle cx="47.0" cy="192.0" r="0.55"/><circle cx="42.4" cy="189.2" r="0.55"/><circle cx="40.2" cy="196.4" r="0.55"/><circle cx="36.9" cy="189.8" r="0.55"/><circle cx="41.7" cy="191.8" r="0.55"/><circle cx="40.1" cy="184.0" r="0.55"/><circle cx="40.3" cy="192.6" r="0.55"/><circle cx="41.4" cy="193.5" r="0.55"/><circle cx="44.7" cy="202.2" r="0.55"/><circle cx="37.2" cy="188.9" r="0.55"/><circle cx="43.5" cy="183.6" r="0.55"/><circle cx="37.5" cy="189.1" r="0.55"/><circle cx="37.4" cy="188.1" r="0.55"/><circle cx="36.8" cy="189.2" r="0.55"/><circle cx="42.8" cy="199.3" r="0.55"/><circle cx="35.3" cy="195.0" r="0.55"/><circle cx="43.4" cy="194.7" r="0.55"/><circle cx="47.9" cy="194.7" r="0.55"/><circle cx="46.3" cy="189.7" r="0.55"/><circle cx="36.7" cy="199.0" r="0.55"/><circle cx="42.6" cy="187.5" r="0.55"/><circle cx="41.3" cy="196.7" r="0.55"/><circle cx="38.6" cy="194.8" r="0.55"/><circle cx="36.6" cy="195.7" r="0.55"/><circle cx="42.7" cy="192.4" r="0.55"/><circle cx="40.5" cy="192.5" r="0.55"/><circle cx="46.6" cy="198.4" r="0.55"/><circle cx="33.9" cy="188.5" r="0.55"/><circle cx="40.9" cy="193.2" r="0.55"/><circle cx="37.6" cy="196.8" r="0.55"/><circle cx="51.4" cy="188.3" r="0.55"/><circle cx="37.6" cy="193.7" r="0.55"/><circle cx="45.9" cy="196.8" r="0.55"/><circle cx="42.0" cy="195.5" r="0.55"/><circle cx="41.9" cy="193.0" r="0.55"/><circle cx="40.7" cy="191.0" r="0.55"/><circle cx="43.1" cy="192.6" r="0.55"/><circle cx="42.9" cy="191.3" r="0.55"/><circle cx="47.5" cy="193.8" r="0.55"/><circle cx="41.8" cy="200.1" r="0.55"/><circle cx="42.0" cy="194.3" r="0.55"/><circle cx="42.4" cy="186.1" r="0.55"/><circle cx="45.3" cy="187.4" r="0.55"/><circle cx="46.1" cy="196.1" r="0.55"/><circle cx="40.4" cy="188.3" r="0.55"/><circle cx="58.5" cy="183.2" r="0.45"/><circle cx="62.7" cy="183.1" r="0.45"/><circle cx="55.9" cy="184.0" r="0.45"/><circle cx="49.6" cy="180.3" r="0.45"/><circle cx="58.8" cy="185.0" r="0.45"/><circle cx="54.6" cy="182.5" r="0.45"/><circle cx="58.7" cy="181.8" r="0.45"/><circle cx="59.5" cy="184.9" r="0.45"/><circle cx="50.2" cy="182.8" r="0.45"/><circle cx="53.8" cy="182.7" r="0.45"/><circle cx="56.4" cy="181.7" r="0.45"/><circle cx="50.7" cy="181.2" r="0.45"/><circle cx="50.7" cy="185.2" r="0.45"/><circle cx="57.7" cy="178.1" r="0.45"/><circle cx="56.4" cy="180.8" r="0.45"/><circle cx="54.5" cy="184.9" r="0.45"/><circle cx="62.7" cy="183.4" r="0.45"/><circle cx="57.1" cy="182.0" r="0.45"/><circle cx="44.2" cy="179.8" r="0.45"/><circle cx="58.3" cy="181.0" r="0.45"/><circle cx="53.1" cy="186.5" r="0.45"/><circle cx="58.7" cy="182.4" r="0.45"/><circle cx="52.3" cy="180.9" r="0.45"/><circle cx="62.2" cy="181.2" r="0.45"/><circle cx="54.9" cy="184.1" r="0.45"/><circle cx="54.6" cy="186.6" r="0.45"/><circle cx="47.1" cy="181.6" r="0.45"/><circle cx="56.1" cy="183.5" r="0.45"/><circle cx="59.6" cy="180.0" r="0.45"/><circle cx="59.4" cy="181.6" r="0.45"/><circle cx="53.5" cy="188.8" r="0.45"/><circle cx="57.7" cy="180.4" r="0.45"/><circle cx="59.0" cy="182.8" r="0.45"/><circle cx="60.5" cy="185.6" r="0.45"/><circle cx="56.0" cy="182.4" r="0.45"/><circle cx="55.0" cy="178.2" r="0.45"/><circle cx="55.7" cy="187.4" r="0.45"/><circle cx="52.5" cy="181.5" r="0.45"/><circle cx="56.0" cy="185.8" r="0.45"/><circle cx="55.1" cy="179.6" r="0.45"/></g>
<path d="M69.0,202.6 L69.4,190 L70.6,184.5 L73.2,181.4 L78.5,180.2 L83.4,181.8 L84.0,188.0 L81.8,195 L79.6,202.6 Z" fill="#3a6fc0" stroke="#3a6fc0" stroke-width="1.2" stroke-linejoin="round"/>
<g fill="#3a6fc0"><circle cx="79.8" cy="198.9" r="0.45"/><circle cx="68.0" cy="187.8" r="0.45"/><circle cx="75.6" cy="202.6" r="0.45"/><circle cx="74.8" cy="182.4" r="0.45"/><circle cx="82.8" cy="186.6" r="0.45"/><circle cx="72.2" cy="183.2" r="0.45"/><circle cx="69.5" cy="188.0" r="0.45"/><circle cx="83.1" cy="186.4" r="0.45"/><circle cx="81.0" cy="201.5" r="0.45"/><circle cx="82.0" cy="180.4" r="0.45"/><circle cx="71.8" cy="183.9" r="0.45"/><circle cx="71.8" cy="183.4" r="0.45"/><circle cx="81.8" cy="187.8" r="0.45"/><circle cx="69.1" cy="183.7" r="0.45"/><circle cx="68.5" cy="188.1" r="0.45"/><circle cx="74.9" cy="202.8" r="0.45"/><circle cx="78.5" cy="180.5" r="0.45"/><circle cx="84.2" cy="182.1" r="0.45"/><circle cx="70.8" cy="192.5" r="0.45"/><circle cx="82.6" cy="196.6" r="0.45"/><circle cx="76.4" cy="181.7" r="0.45"/><circle cx="69.3" cy="188.1" r="0.45"/><circle cx="84.0" cy="185.4" r="0.45"/><circle cx="73.8" cy="181.0" r="0.45"/><circle cx="78.4" cy="181.9" r="0.45"/><circle cx="71.8" cy="183.5" r="0.45"/><circle cx="74.6" cy="181.6" r="0.45"/><circle cx="81.5" cy="193.2" r="0.45"/><circle cx="83.6" cy="184.2" r="0.45"/><circle cx="83.5" cy="183.0" r="0.45"/><circle cx="81.7" cy="200.6" r="0.45"/><circle cx="80.6" cy="181.1" r="0.45"/><circle cx="80.7" cy="181.6" r="0.45"/><circle cx="83.2" cy="184.7" r="0.45"/><circle cx="80.1" cy="201.8" r="0.45"/><circle cx="76.4" cy="180.3" r="0.45"/><circle cx="77.7" cy="180.5" r="0.45"/><circle cx="78.7" cy="180.7" r="0.45"/><circle cx="70.6" cy="183.6" r="0.45"/><circle cx="68.1" cy="197.0" r="0.45"/><circle cx="82.3" cy="194.1" r="0.45"/><circle cx="72.4" cy="183.6" r="0.45"/><circle cx="81.7" cy="181.5" r="0.45"/><circle cx="77.1" cy="180.9" r="0.45"/><circle cx="70.3" cy="183.6" r="0.45"/><circle cx="70.1" cy="182.9" r="0.45"/><circle cx="76.4" cy="181.0" r="0.45"/><circle cx="75.2" cy="202.3" r="0.45"/><circle cx="84.6" cy="182.4" r="0.45"/><circle cx="80.3" cy="196.5" r="0.45"/><circle cx="72.8" cy="182.4" r="0.45"/><circle cx="83.1" cy="180.9" r="0.45"/><circle cx="71.3" cy="197.1" r="0.45"/><circle cx="69.2" cy="187.7" r="0.45"/><circle cx="84.7" cy="185.8" r="0.45"/><circle cx="70.3" cy="199.8" r="0.45"/><circle cx="79.6" cy="198.7" r="0.45"/><circle cx="70.2" cy="200.2" r="0.45"/><circle cx="70.9" cy="185.8" r="0.45"/><circle cx="70.3" cy="201.7" r="0.45"/><circle cx="77.6" cy="179.5" r="0.45"/><circle cx="76.3" cy="202.9" r="0.45"/><circle cx="70.7" cy="186.2" r="0.45"/><circle cx="80.5" cy="199.0" r="0.45"/><circle cx="70.7" cy="188.7" r="0.45"/><circle cx="72.6" cy="180.6" r="0.45"/><circle cx="74.3" cy="181.7" r="0.45"/><circle cx="82.5" cy="192.0" r="0.45"/><circle cx="69.0" cy="193.4" r="0.45"/><circle cx="84.5" cy="185.3" r="0.45"/><circle cx="84.1" cy="186.6" r="0.45"/><circle cx="77.7" cy="201.8" r="0.45"/><circle cx="83.0" cy="192.7" r="0.45"/><circle cx="69.8" cy="184.7" r="0.45"/><circle cx="68.3" cy="200.2" r="0.45"/><circle cx="81.1" cy="198.1" r="0.45"/><circle cx="68.6" cy="201.6" r="0.45"/><circle cx="81.7" cy="181.0" r="0.45"/><circle cx="68.7" cy="188.5" r="0.45"/><circle cx="68.7" cy="200.2" r="0.45"/><circle cx="71.4" cy="189.2" r="0.45"/><circle cx="77.2" cy="179.2" r="0.45"/><circle cx="82.0" cy="196.5" r="0.45"/><circle cx="82.5" cy="193.5" r="0.45"/><circle cx="75.2" cy="203.0" r="0.45"/><circle cx="77.1" cy="182.0" r="0.45"/><circle cx="79.5" cy="202.7" r="0.45"/><circle cx="78.4" cy="180.8" r="0.45"/><circle cx="75.4" cy="202.5" r="0.45"/><circle cx="84.3" cy="182.6" r="0.45"/><circle cx="83.1" cy="187.4" r="0.45"/><circle cx="79.9" cy="180.4" r="0.45"/><circle cx="84.5" cy="184.9" r="0.45"/><circle cx="81.1" cy="196.6" r="0.45"/><circle cx="71.4" cy="182.8" r="0.45"/><circle cx="77.4" cy="179.3" r="0.45"/><circle cx="79.9" cy="201.0" r="0.45"/><circle cx="80.3" cy="196.1" r="0.45"/><circle cx="72.4" cy="183.8" r="0.45"/><circle cx="71.1" cy="202.6" r="0.45"/><circle cx="72.1" cy="181.4" r="0.45"/><circle cx="68.9" cy="188.2" r="0.45"/><circle cx="82.7" cy="184.3" r="0.45"/><circle cx="84.1" cy="192.6" r="0.45"/><circle cx="80.6" cy="199.0" r="0.45"/><circle cx="71.3" cy="183.6" r="0.45"/><circle cx="84.5" cy="182.4" r="0.45"/><circle cx="81.8" cy="183.9" r="0.45"/><circle cx="83.2" cy="180.6" r="0.45"/><circle cx="81.5" cy="191.5" r="0.45"/><circle cx="84.3" cy="191.6" r="0.45"/><circle cx="79.2" cy="201.2" r="0.45"/><circle cx="68.6" cy="187.7" r="0.45"/><circle cx="73.9" cy="181.5" r="0.45"/><circle cx="81.1" cy="200.1" r="0.45"/><circle cx="84.5" cy="186.9" r="0.45"/><circle cx="70.0" cy="187.2" r="0.45"/><circle cx="69.7" cy="202.9" r="0.45"/><circle cx="83.0" cy="183.3" r="0.45"/><circle cx="82.8" cy="188.4" r="0.45"/><circle cx="82.8" cy="184.3" r="0.45"/><circle cx="85.4" cy="188.1" r="0.45"/><circle cx="69.6" cy="195.2" r="0.45"/><circle cx="74.9" cy="201.2" r="0.45"/><circle cx="68.2" cy="202.2" r="0.45"/><circle cx="68.5" cy="189.1" r="0.45"/><circle cx="69.6" cy="202.3" r="0.45"/><circle cx="80.6" cy="199.4" r="0.45"/><circle cx="68.8" cy="193.7" r="0.45"/><circle cx="75.4" cy="181.6" r="0.45"/><circle cx="70.7" cy="185.2" r="0.45"/><circle cx="75.4" cy="181.1" r="0.45"/><circle cx="83.7" cy="191.8" r="0.45"/><circle cx="76.5" cy="181.7" r="0.45"/><circle cx="72.8" cy="182.5" r="0.45"/><circle cx="80.5" cy="182.7" r="0.45"/><circle cx="68.6" cy="189.6" r="0.45"/><circle cx="74.3" cy="181.7" r="0.45"/><circle cx="69.3" cy="193.2" r="0.45"/><circle cx="85.5" cy="184.2" r="0.45"/><circle cx="83.6" cy="192.7" r="0.45"/><circle cx="81.9" cy="188.5" r="0.45"/><circle cx="81.8" cy="194.3" r="0.45"/><circle cx="75.1" cy="181.6" r="0.45"/><circle cx="81.5" cy="181.7" r="0.45"/><circle cx="70.6" cy="185.9" r="0.45"/><circle cx="70.5" cy="183.1" r="0.45"/><circle cx="73.2" cy="182.4" r="0.45"/><circle cx="82.0" cy="192.0" r="0.45"/><circle cx="80.8" cy="199.8" r="0.45"/><circle cx="74.3" cy="181.6" r="0.45"/><circle cx="80.1" cy="200.0" r="0.45"/><circle cx="77.7" cy="202.3" r="0.45"/><circle cx="79.5" cy="201.4" r="0.45"/><circle cx="83.8" cy="187.7" r="0.45"/><circle cx="69.6" cy="198.0" r="0.45"/><circle cx="74.7" cy="180.6" r="0.45"/><circle cx="70.4" cy="201.2" r="0.45"/><circle cx="73.3" cy="181.9" r="0.45"/><circle cx="72.0" cy="182.5" r="0.45"/><circle cx="81.4" cy="199.7" r="0.45"/><circle cx="73.4" cy="182.4" r="0.45"/><circle cx="85.3" cy="187.6" r="0.45"/><circle cx="81.7" cy="196.2" r="0.45"/><circle cx="71.1" cy="190.3" r="0.45"/><circle cx="77.2" cy="180.6" r="0.45"/><circle cx="71.7" cy="182.6" r="0.45"/><circle cx="67.7" cy="194.1" r="0.45"/><circle cx="76.1" cy="180.0" r="0.45"/><circle cx="80.6" cy="191.7" r="0.45"/><circle cx="70.5" cy="184.7" r="0.45"/><circle cx="68.2" cy="190.9" r="0.45"/><circle cx="77.6" cy="180.8" r="0.45"/><circle cx="85.0" cy="187.2" r="0.45"/><circle cx="81.3" cy="194.6" r="0.45"/><circle cx="79.5" cy="202.3" r="0.45"/><circle cx="83.7" cy="184.4" r="0.45"/><circle cx="80.4" cy="198.3" r="0.45"/><circle cx="70.8" cy="201.6" r="0.45"/><circle cx="73.0" cy="179.8" r="0.45"/><circle cx="80.2" cy="181.8" r="0.45"/><circle cx="76.1" cy="181.1" r="0.45"/><circle cx="84.7" cy="184.7" r="0.45"/><circle cx="70.6" cy="182.8" r="0.45"/><circle cx="78.3" cy="180.6" r="0.45"/><circle cx="72.6" cy="182.2" r="0.45"/><circle cx="72.2" cy="183.9" r="0.45"/><circle cx="70.1" cy="186.4" r="0.45"/><circle cx="70.7" cy="183.0" r="0.45"/><circle cx="73.6" cy="182.1" r="0.45"/><circle cx="74.0" cy="180.9" r="0.45"/><circle cx="69.8" cy="186.3" r="0.45"/><circle cx="83.0" cy="184.2" r="0.45"/><circle cx="81.6" cy="202.8" r="0.45"/><circle cx="81.1" cy="193.2" r="0.45"/><circle cx="78.1" cy="180.4" r="0.45"/><circle cx="77.0" cy="181.2" r="0.45"/><circle cx="68.7" cy="184.9" r="0.45"/><circle cx="83.0" cy="181.9" r="0.45"/><circle cx="69.7" cy="192.2" r="0.45"/><circle cx="71.2" cy="181.2" r="0.45"/><circle cx="70.7" cy="183.4" r="0.45"/><circle cx="83.1" cy="183.5" r="0.45"/><circle cx="74.3" cy="180.7" r="0.45"/><circle cx="80.8" cy="180.9" r="0.45"/><circle cx="83.0" cy="194.0" r="0.45"/><circle cx="81.4" cy="200.5" r="0.45"/><circle cx="69.6" cy="189.7" r="0.45"/><circle cx="84.7" cy="188.9" r="0.45"/><circle cx="74.2" cy="181.3" r="0.45"/><circle cx="72.3" cy="202.4" r="0.45"/><circle cx="70.2" cy="192.5" r="0.45"/><circle cx="73.2" cy="183.4" r="0.45"/><circle cx="82.6" cy="185.5" r="0.45"/><circle cx="76.7" cy="202.2" r="0.45"/><circle cx="74.3" cy="181.2" r="0.45"/><circle cx="68.6" cy="194.6" r="0.45"/><circle cx="80.6" cy="194.8" r="0.45"/><circle cx="81.5" cy="181.3" r="0.45"/><circle cx="74.3" cy="179.8" r="0.45"/></g>
<path d="M38.5,224.6 L39.5,220 L42.5,214.8 L47.3,211.4 L55.8,210.2 L56.2,224.8 Z" fill="#6440a0" stroke="#6440a0" stroke-width="1.2" stroke-linejoin="round"/>
<g fill="#6440a0"><circle cx="40.4" cy="217.7" r="0.45"/><circle cx="50.4" cy="212.3" r="0.45"/><circle cx="44.1" cy="216.7" r="0.45"/><circle cx="56.5" cy="223.4" r="0.45"/><circle cx="53.6" cy="224.6" r="0.45"/><circle cx="47.8" cy="211.5" r="0.45"/><circle cx="52.6" cy="224.6" r="0.45"/><circle cx="38.4" cy="218.7" r="0.45"/><circle cx="40.3" cy="214.9" r="0.45"/><circle cx="40.5" cy="221.4" r="0.45"/><circle cx="53.8" cy="210.9" r="0.45"/><circle cx="41.3" cy="216.4" r="0.45"/><circle cx="55.9" cy="212.2" r="0.45"/><circle cx="40.5" cy="221.0" r="0.45"/><circle cx="37.0" cy="222.5" r="0.45"/><circle cx="56.4" cy="225.2" r="0.45"/><circle cx="46.3" cy="211.9" r="0.45"/><circle cx="41.7" cy="215.8" r="0.45"/><circle cx="47.5" cy="212.8" r="0.45"/><circle cx="38.1" cy="224.4" r="0.45"/><circle cx="39.0" cy="219.5" r="0.45"/><circle cx="45.1" cy="216.9" r="0.45"/><circle cx="48.8" cy="211.3" r="0.45"/><circle cx="42.5" cy="213.8" r="0.45"/><circle cx="45.2" cy="223.3" r="0.45"/><circle cx="44.3" cy="210.9" r="0.45"/><circle cx="47.0" cy="212.0" r="0.45"/><circle cx="39.4" cy="222.1" r="0.45"/><circle cx="56.3" cy="210.0" r="0.45"/><circle cx="51.8" cy="209.7" r="0.45"/><circle cx="37.8" cy="222.8" r="0.45"/><circle cx="42.0" cy="217.1" r="0.45"/><circle cx="45.3" cy="213.5" r="0.45"/><circle cx="43.3" cy="214.9" r="0.45"/><circle cx="36.2" cy="220.8" r="0.45"/><circle cx="39.0" cy="221.0" r="0.45"/><circle cx="48.7" cy="211.1" r="0.45"/><circle cx="55.5" cy="218.2" r="0.45"/><circle cx="53.7" cy="224.0" r="0.45"/><circle cx="40.7" cy="214.7" r="0.45"/><circle cx="46.5" cy="211.3" r="0.45"/><circle cx="40.9" cy="218.4" r="0.45"/><circle cx="50.3" cy="224.0" r="0.45"/><circle cx="55.1" cy="222.3" r="0.45"/><circle cx="51.9" cy="224.6" r="0.45"/><circle cx="42.3" cy="219.4" r="0.45"/><circle cx="49.1" cy="212.2" r="0.45"/><circle cx="42.4" cy="218.5" r="0.45"/><circle cx="43.3" cy="211.4" r="0.45"/><circle cx="43.9" cy="217.1" r="0.45"/><circle cx="52.8" cy="211.1" r="0.45"/><circle cx="46.5" cy="209.7" r="0.45"/><circle cx="39.0" cy="221.4" r="0.45"/><circle cx="45.2" cy="211.3" r="0.45"/><circle cx="41.9" cy="217.5" r="0.45"/><circle cx="41.9" cy="216.7" r="0.45"/><circle cx="38.4" cy="220.6" r="0.45"/><circle cx="56.4" cy="215.8" r="0.45"/><circle cx="37.8" cy="225.4" r="0.45"/><circle cx="45.9" cy="223.3" r="0.45"/><circle cx="39.4" cy="219.9" r="0.45"/><circle cx="45.9" cy="221.2" r="0.45"/><circle cx="49.3" cy="211.1" r="0.45"/><circle cx="45.6" cy="212.9" r="0.45"/><circle cx="56.4" cy="220.0" r="0.45"/><circle cx="39.9" cy="225.5" r="0.45"/><circle cx="38.1" cy="223.8" r="0.45"/><circle cx="44.1" cy="224.1" r="0.45"/><circle cx="56.2" cy="220.2" r="0.45"/><circle cx="49.4" cy="225.0" r="0.45"/><circle cx="43.8" cy="224.5" r="0.45"/><circle cx="43.3" cy="213.4" r="0.45"/><circle cx="40.8" cy="215.0" r="0.45"/><circle cx="42.4" cy="213.4" r="0.45"/><circle cx="39.0" cy="219.9" r="0.45"/><circle cx="55.3" cy="217.3" r="0.45"/><circle cx="56.4" cy="216.1" r="0.45"/><circle cx="41.3" cy="223.2" r="0.45"/><circle cx="46.4" cy="215.6" r="0.45"/><circle cx="51.3" cy="209.8" r="0.45"/><circle cx="50.0" cy="213.2" r="0.45"/><circle cx="41.3" cy="221.8" r="0.45"/><circle cx="52.5" cy="211.3" r="0.45"/><circle cx="53.3" cy="209.5" r="0.45"/><circle cx="41.2" cy="224.7" r="0.45"/><circle cx="48.6" cy="225.5" r="0.45"/><circle cx="51.6" cy="214.3" r="0.45"/><circle cx="42.8" cy="213.6" r="0.45"/><circle cx="47.7" cy="212.3" r="0.45"/><circle cx="36.3" cy="223.3" r="0.45"/><circle cx="38.1" cy="216.4" r="0.45"/><circle cx="41.8" cy="216.4" r="0.45"/><circle cx="50.3" cy="222.4" r="0.45"/><circle cx="42.6" cy="219.9" r="0.45"/><circle cx="38.2" cy="225.3" r="0.45"/><circle cx="43.9" cy="216.1" r="0.45"/><circle cx="37.8" cy="221.3" r="0.45"/><circle cx="55.1" cy="210.3" r="0.45"/><circle cx="40.0" cy="218.8" r="0.45"/><circle cx="41.2" cy="218.6" r="0.45"/><circle cx="41.7" cy="222.0" r="0.45"/><circle cx="40.4" cy="221.5" r="0.45"/><circle cx="41.9" cy="217.3" r="0.45"/><circle cx="55.8" cy="210.9" r="0.45"/><circle cx="40.6" cy="219.6" r="0.45"/><circle cx="41.6" cy="216.9" r="0.45"/><circle cx="44.6" cy="213.7" r="0.45"/><circle cx="37.8" cy="222.3" r="0.45"/><circle cx="40.1" cy="223.4" r="0.45"/><circle cx="43.9" cy="209.8" r="0.45"/><circle cx="42.6" cy="225.3" r="0.45"/><circle cx="51.7" cy="212.6" r="0.45"/><circle cx="55.5" cy="209.4" r="0.45"/><circle cx="42.1" cy="216.4" r="0.45"/><circle cx="55.3" cy="223.0" r="0.45"/><circle cx="55.0" cy="223.8" r="0.45"/><circle cx="47.7" cy="223.6" r="0.45"/><circle cx="54.8" cy="214.9" r="0.45"/><circle cx="43.0" cy="223.8" r="0.45"/><circle cx="37.3" cy="222.5" r="0.45"/><circle cx="43.5" cy="225.6" r="0.45"/><circle cx="51.5" cy="224.1" r="0.45"/><circle cx="53.7" cy="211.7" r="0.45"/><circle cx="56.2" cy="216.2" r="0.45"/><circle cx="44.7" cy="216.0" r="0.45"/><circle cx="51.0" cy="210.4" r="0.45"/><circle cx="42.0" cy="224.9" r="0.45"/><circle cx="48.9" cy="212.0" r="0.45"/><circle cx="38.1" cy="221.7" r="0.45"/><circle cx="45.7" cy="213.9" r="0.45"/><circle cx="51.9" cy="211.0" r="0.45"/><circle cx="42.8" cy="217.5" r="0.45"/><circle cx="44.0" cy="211.7" r="0.45"/><circle cx="55.8" cy="215.3" r="0.45"/><circle cx="39.4" cy="221.6" r="0.45"/><circle cx="45.8" cy="213.4" r="0.45"/><circle cx="38.9" cy="219.2" r="0.45"/><circle cx="55.0" cy="211.6" r="0.45"/><circle cx="45.2" cy="213.0" r="0.45"/><circle cx="52.4" cy="211.5" r="0.45"/><circle cx="50.2" cy="210.3" r="0.45"/><circle cx="38.3" cy="216.7" r="0.45"/><circle cx="43.4" cy="213.6" r="0.45"/><circle cx="38.9" cy="221.9" r="0.45"/><circle cx="49.1" cy="210.7" r="0.45"/><circle cx="44.4" cy="224.9" r="0.45"/><circle cx="54.9" cy="209.1" r="0.45"/><circle cx="49.9" cy="211.7" r="0.45"/><circle cx="41.8" cy="215.7" r="0.45"/><circle cx="50.0" cy="224.1" r="0.45"/><circle cx="45.4" cy="210.9" r="0.45"/><circle cx="39.5" cy="222.9" r="0.45"/><circle cx="40.3" cy="225.2" r="0.45"/><circle cx="56.3" cy="216.1" r="0.45"/><circle cx="46.5" cy="213.8" r="0.45"/><circle cx="55.3" cy="211.3" r="0.45"/><circle cx="40.0" cy="221.4" r="0.45"/><circle cx="56.8" cy="225.9" r="0.45"/><circle cx="55.5" cy="214.9" r="0.45"/><circle cx="43.9" cy="212.8" r="0.45"/><circle cx="38.8" cy="224.4" r="0.45"/><circle cx="54.5" cy="211.2" r="0.45"/><circle cx="37.1" cy="221.4" r="0.45"/><circle cx="46.6" cy="224.1" r="0.45"/><circle cx="44.8" cy="213.4" r="0.45"/><circle cx="39.7" cy="221.3" r="0.45"/><circle cx="49.2" cy="209.0" r="0.45"/><circle cx="54.4" cy="220.2" r="0.45"/><circle cx="43.3" cy="215.9" r="0.45"/><circle cx="40.2" cy="224.7" r="0.45"/><circle cx="43.4" cy="223.2" r="0.45"/><circle cx="40.6" cy="218.8" r="0.45"/><circle cx="39.1" cy="223.0" r="0.45"/><circle cx="38.4" cy="221.9" r="0.45"/><circle cx="53.4" cy="210.9" r="0.45"/><circle cx="54.5" cy="225.9" r="0.45"/><circle cx="42.7" cy="213.7" r="0.45"/><circle cx="54.4" cy="224.2" r="0.45"/><circle cx="41.0" cy="216.0" r="0.45"/><circle cx="55.3" cy="210.8" r="0.45"/><circle cx="38.9" cy="223.2" r="0.5"/><circle cx="39.3" cy="217.1" r="0.5"/><circle cx="41.1" cy="220.5" r="0.5"/><circle cx="38.5" cy="221.6" r="0.5"/><circle cx="42.7" cy="219.7" r="0.5"/><circle cx="38.9" cy="217.3" r="0.5"/><circle cx="38.0" cy="216.0" r="0.5"/><circle cx="43.1" cy="220.5" r="0.5"/><circle cx="45.2" cy="219.6" r="0.5"/><circle cx="45.1" cy="214.8" r="0.5"/><circle cx="40.7" cy="221.3" r="0.5"/><circle cx="38.7" cy="222.8" r="0.5"/><circle cx="40.1" cy="217.0" r="0.5"/><circle cx="35.0" cy="219.9" r="0.5"/><circle cx="40.6" cy="212.5" r="0.5"/><circle cx="37.8" cy="217.8" r="0.5"/><circle cx="38.8" cy="218.3" r="0.5"/><circle cx="42.0" cy="219.0" r="0.5"/><circle cx="41.5" cy="221.1" r="0.5"/><circle cx="41.3" cy="221.5" r="0.5"/><circle cx="37.3" cy="219.3" r="0.5"/><circle cx="39.1" cy="220.1" r="0.5"/><circle cx="42.7" cy="214.3" r="0.5"/><circle cx="39.5" cy="215.7" r="0.5"/><circle cx="40.0" cy="217.5" r="0.5"/><circle cx="41.6" cy="221.5" r="0.5"/><circle cx="40.8" cy="219.2" r="0.5"/><circle cx="37.3" cy="217.5" r="0.5"/><circle cx="39.0" cy="216.1" r="0.5"/><circle cx="40.6" cy="218.0" r="0.5"/><circle cx="39.3" cy="214.2" r="0.5"/><circle cx="37.2" cy="222.4" r="0.5"/><circle cx="40.3" cy="219.2" r="0.5"/><circle cx="36.5" cy="214.5" r="0.5"/><circle cx="39.2" cy="221.2" r="0.5"/><circle cx="41.7" cy="220.4" r="0.5"/><circle cx="41.4" cy="221.0" r="0.5"/><circle cx="37.4" cy="218.3" r="0.5"/><circle cx="40.1" cy="222.9" r="0.5"/><circle cx="42.2" cy="219.6" r="0.5"/><circle cx="42.3" cy="218.2" r="0.5"/><circle cx="44.1" cy="216.4" r="0.5"/><circle cx="37.8" cy="218.5" r="0.5"/><circle cx="41.2" cy="219.8" r="0.5"/><circle cx="45.0" cy="220.8" r="0.5"/><circle cx="39.4" cy="217.0" r="0.5"/><circle cx="39.9" cy="217.7" r="0.5"/><circle cx="42.7" cy="224.1" r="0.5"/><circle cx="43.2" cy="219.0" r="0.5"/><circle cx="39.0" cy="218.0" r="0.5"/><circle cx="38.6" cy="218.4" r="0.5"/><circle cx="38.9" cy="217.2" r="0.5"/><circle cx="40.2" cy="224.2" r="0.5"/><circle cx="34.5" cy="218.5" r="0.5"/><circle cx="40.5" cy="217.9" r="0.5"/><circle cx="39.3" cy="220.2" r="0.5"/><circle cx="41.1" cy="224.0" r="0.5"/><circle cx="41.2" cy="221.3" r="0.5"/><circle cx="44.4" cy="221.5" r="0.5"/><circle cx="38.4" cy="218.0" r="0.5"/><circle cx="37.1" cy="225.3" r="0.5"/><circle cx="40.2" cy="218.3" r="0.5"/><circle cx="40.4" cy="217.4" r="0.5"/><circle cx="38.2" cy="218.9" r="0.5"/><circle cx="41.5" cy="214.1" r="0.5"/><circle cx="42.0" cy="225.5" r="0.5"/><circle cx="38.2" cy="214.7" r="0.5"/><circle cx="40.2" cy="219.1" r="0.5"/><circle cx="40.6" cy="218.4" r="0.5"/><circle cx="37.3" cy="218.6" r="0.5"/><circle cx="43.7" cy="220.7" r="0.5"/><circle cx="45.6" cy="221.3" r="0.5"/><circle cx="42.7" cy="219.9" r="0.5"/><circle cx="36.3" cy="221.3" r="0.5"/><circle cx="43.9" cy="218.3" r="0.5"/><circle cx="41.1" cy="215.7" r="0.5"/><circle cx="40.5" cy="215.5" r="0.5"/><circle cx="39.7" cy="223.6" r="0.5"/><circle cx="39.7" cy="219.9" r="0.5"/><circle cx="34.8" cy="220.1" r="0.5"/><circle cx="39.2" cy="217.4" r="0.5"/><circle cx="36.8" cy="221.8" r="0.5"/><circle cx="43.3" cy="217.6" r="0.5"/><circle cx="40.0" cy="215.0" r="0.5"/><circle cx="37.6" cy="215.5" r="0.5"/><circle cx="44.8" cy="221.2" r="0.5"/><circle cx="41.6" cy="214.3" r="0.5"/><circle cx="41.3" cy="217.2" r="0.5"/><circle cx="36.7" cy="217.0" r="0.5"/><circle cx="42.8" cy="216.3" r="0.5"/></g>
<path d="M58.5,225 L58.5,216 L61.5,213 L65,214.5 L68.5,211 L71.5,206 L76,205 L80.5,206.5 L80.5,213 L79,221 L76.5,225.5 Z" fill="#d5171c" stroke="#d5171c" stroke-width="1.2" stroke-linejoin="round"/>
<g fill="#d5171c"><circle cx="62.0" cy="225.6" r="0.45"/><circle cx="79.2" cy="206.4" r="0.45"/><circle cx="75.4" cy="204.7" r="0.45"/><circle cx="68.3" cy="211.0" r="0.45"/><circle cx="60.0" cy="213.5" r="0.45"/><circle cx="69.5" cy="209.4" r="0.45"/><circle cx="73.0" cy="205.7" r="0.45"/><circle cx="71.7" cy="207.6" r="0.45"/><circle cx="79.7" cy="209.0" r="0.45"/><circle cx="69.4" cy="212.6" r="0.45"/><circle cx="62.6" cy="214.1" r="0.45"/><circle cx="63.4" cy="212.4" r="0.45"/><circle cx="76.5" cy="207.5" r="0.45"/><circle cx="78.8" cy="221.3" r="0.45"/><circle cx="80.8" cy="212.7" r="0.45"/><circle cx="66.9" cy="212.1" r="0.45"/><circle cx="76.3" cy="205.1" r="0.45"/><circle cx="80.7" cy="219.7" r="0.45"/><circle cx="71.9" cy="208.4" r="0.45"/><circle cx="80.2" cy="209.1" r="0.45"/><circle cx="66.0" cy="224.4" r="0.45"/><circle cx="59.3" cy="223.0" r="0.45"/><circle cx="79.4" cy="217.2" r="0.45"/><circle cx="64.1" cy="213.8" r="0.45"/><circle cx="76.3" cy="205.6" r="0.45"/><circle cx="67.7" cy="209.5" r="0.45"/><circle cx="59.2" cy="217.3" r="0.45"/><circle cx="70.5" cy="209.8" r="0.45"/><circle cx="60.1" cy="221.0" r="0.45"/><circle cx="62.0" cy="225.3" r="0.45"/><circle cx="74.5" cy="206.0" r="0.45"/><circle cx="79.1" cy="223.6" r="0.45"/><circle cx="62.3" cy="212.9" r="0.45"/><circle cx="71.2" cy="208.1" r="0.45"/><circle cx="60.4" cy="219.4" r="0.45"/><circle cx="76.2" cy="205.9" r="0.45"/><circle cx="80.0" cy="208.8" r="0.45"/><circle cx="59.9" cy="214.7" r="0.45"/><circle cx="81.2" cy="210.5" r="0.45"/><circle cx="80.0" cy="210.1" r="0.45"/><circle cx="71.5" cy="207.3" r="0.45"/><circle cx="65.6" cy="223.6" r="0.45"/><circle cx="69.4" cy="208.0" r="0.45"/><circle cx="71.9" cy="207.6" r="0.45"/><circle cx="59.2" cy="223.4" r="0.45"/><circle cx="72.2" cy="207.8" r="0.45"/><circle cx="62.4" cy="214.2" r="0.45"/><circle cx="65.3" cy="213.6" r="0.45"/><circle cx="58.8" cy="215.3" r="0.45"/><circle cx="72.3" cy="205.6" r="0.45"/><circle cx="65.1" cy="215.5" r="0.45"/><circle cx="79.5" cy="205.7" r="0.45"/><circle cx="74.9" cy="205.1" r="0.45"/><circle cx="62.6" cy="224.6" r="0.45"/><circle cx="61.2" cy="225.6" r="0.45"/><circle cx="71.1" cy="204.5" r="0.45"/><circle cx="78.7" cy="206.3" r="0.45"/><circle cx="76.0" cy="223.6" r="0.45"/><circle cx="65.2" cy="214.5" r="0.45"/><circle cx="59.4" cy="214.5" r="0.45"/><circle cx="70.7" cy="206.3" r="0.45"/><circle cx="81.6" cy="208.7" r="0.45"/><circle cx="80.9" cy="218.0" r="0.45"/><circle cx="80.7" cy="208.7" r="0.45"/><circle cx="75.1" cy="204.9" r="0.45"/><circle cx="79.8" cy="221.4" r="0.45"/><circle cx="79.5" cy="223.8" r="0.45"/><circle cx="58.4" cy="218.8" r="0.45"/><circle cx="72.0" cy="225.6" r="0.45"/><circle cx="77.6" cy="205.4" r="0.45"/><circle cx="59.5" cy="217.5" r="0.45"/><circle cx="68.1" cy="210.7" r="0.45"/><circle cx="81.6" cy="211.8" r="0.45"/><circle cx="66.6" cy="214.3" r="0.45"/><circle cx="72.9" cy="208.3" r="0.45"/><circle cx="59.1" cy="222.7" r="0.45"/><circle cx="68.3" cy="213.6" r="0.45"/><circle cx="73.1" cy="206.5" r="0.45"/><circle cx="77.9" cy="224.5" r="0.45"/><circle cx="79.7" cy="215.6" r="0.45"/><circle cx="70.5" cy="225.8" r="0.45"/><circle cx="63.7" cy="214.2" r="0.45"/><circle cx="79.3" cy="213.3" r="0.45"/><circle cx="71.7" cy="205.8" r="0.45"/><circle cx="73.1" cy="205.5" r="0.45"/><circle cx="63.7" cy="214.1" r="0.45"/><circle cx="76.9" cy="205.5" r="0.45"/><circle cx="70.4" cy="211.0" r="0.45"/><circle cx="79.4" cy="205.5" r="0.45"/><circle cx="77.4" cy="205.3" r="0.45"/><circle cx="79.7" cy="223.7" r="0.45"/><circle cx="62.1" cy="215.2" r="0.45"/><circle cx="79.8" cy="219.5" r="0.45"/><circle cx="77.6" cy="220.2" r="0.45"/><circle cx="65.3" cy="215.5" r="0.45"/><circle cx="60.7" cy="213.9" r="0.45"/><circle cx="79.2" cy="208.7" r="0.45"/><circle cx="78.9" cy="210.7" r="0.45"/><circle cx="79.2" cy="205.8" r="0.45"/><circle cx="65.3" cy="212.4" r="0.45"/><circle cx="79.9" cy="220.8" r="0.45"/><circle cx="61.3" cy="211.7" r="0.45"/><circle cx="59.0" cy="219.5" r="0.45"/><circle cx="62.7" cy="224.5" r="0.45"/><circle cx="68.1" cy="211.8" r="0.45"/><circle cx="70.1" cy="210.7" r="0.45"/><circle cx="67.4" cy="211.0" r="0.45"/><circle cx="61.1" cy="213.4" r="0.45"/><circle cx="65.0" cy="215.3" r="0.45"/><circle cx="61.1" cy="214.2" r="0.45"/><circle cx="60.1" cy="224.6" r="0.45"/><circle cx="58.9" cy="213.5" r="0.45"/><circle cx="81.7" cy="214.1" r="0.45"/><circle cx="69.2" cy="207.5" r="0.45"/><circle cx="66.0" cy="212.7" r="0.45"/><circle cx="80.0" cy="206.1" r="0.45"/><circle cx="79.5" cy="216.7" r="0.45"/><circle cx="68.3" cy="211.1" r="0.45"/><circle cx="72.4" cy="206.6" r="0.45"/><circle cx="82.4" cy="210.2" r="0.45"/><circle cx="60.1" cy="224.7" r="0.45"/><circle cx="76.1" cy="224.0" r="0.45"/><circle cx="78.0" cy="225.4" r="0.45"/><circle cx="62.1" cy="211.8" r="0.45"/><circle cx="60.1" cy="220.8" r="0.45"/><circle cx="59.6" cy="223.0" r="0.45"/><circle cx="62.1" cy="214.3" r="0.45"/><circle cx="73.6" cy="206.2" r="0.45"/><circle cx="63.2" cy="225.4" r="0.45"/><circle cx="72.7" cy="206.9" r="0.45"/><circle cx="71.6" cy="205.2" r="0.45"/><circle cx="74.6" cy="205.1" r="0.45"/><circle cx="73.2" cy="205.9" r="0.45"/><circle cx="62.1" cy="214.3" r="0.45"/><circle cx="79.9" cy="218.4" r="0.45"/><circle cx="65.8" cy="211.4" r="0.45"/><circle cx="71.8" cy="210.7" r="0.45"/><circle cx="77.3" cy="221.4" r="0.45"/><circle cx="70.8" cy="208.1" r="0.45"/><circle cx="59.6" cy="223.0" r="0.45"/><circle cx="75.7" cy="224.2" r="0.45"/><circle cx="76.2" cy="225.9" r="0.45"/><circle cx="58.9" cy="215.9" r="0.45"/><circle cx="70.2" cy="205.3" r="0.45"/><circle cx="58.7" cy="224.2" r="0.45"/><circle cx="81.3" cy="208.2" r="0.45"/><circle cx="80.7" cy="209.0" r="0.45"/><circle cx="60.1" cy="213.7" r="0.45"/><circle cx="65.5" cy="213.7" r="0.45"/><circle cx="67.4" cy="210.9" r="0.45"/><circle cx="58.9" cy="217.6" r="0.45"/><circle cx="64.3" cy="226.0" r="0.45"/><circle cx="61.1" cy="225.5" r="0.45"/><circle cx="78.4" cy="206.2" r="0.45"/><circle cx="60.6" cy="224.6" r="0.45"/><circle cx="63.9" cy="215.5" r="0.45"/><circle cx="62.2" cy="212.4" r="0.45"/><circle cx="61.1" cy="214.7" r="0.45"/><circle cx="68.7" cy="211.0" r="0.45"/><circle cx="73.3" cy="205.2" r="0.45"/><circle cx="64.7" cy="213.7" r="0.45"/><circle cx="59.8" cy="214.1" r="0.45"/><circle cx="62.1" cy="213.4" r="0.45"/><circle cx="78.3" cy="205.9" r="0.45"/><circle cx="73.6" cy="206.6" r="0.45"/><circle cx="58.8" cy="226.1" r="0.45"/><circle cx="80.0" cy="223.7" r="0.45"/><circle cx="77.8" cy="204.7" r="0.45"/><circle cx="65.9" cy="212.6" r="0.45"/><circle cx="58.5" cy="218.2" r="0.45"/><circle cx="81.8" cy="213.1" r="0.45"/><circle cx="71.4" cy="204.7" r="0.45"/><circle cx="70.6" cy="210.2" r="0.45"/><circle cx="78.1" cy="218.9" r="0.45"/><circle cx="58.6" cy="221.5" r="0.45"/><circle cx="77.9" cy="222.4" r="0.45"/><circle cx="75.5" cy="204.4" r="0.45"/><circle cx="60.4" cy="213.9" r="0.45"/><circle cx="64.1" cy="215.2" r="0.45"/><circle cx="66.9" cy="212.2" r="0.45"/><circle cx="58.1" cy="221.8" r="0.45"/><circle cx="75.0" cy="205.1" r="0.45"/><circle cx="67.6" cy="214.4" r="0.45"/><circle cx="66.3" cy="212.6" r="0.45"/><circle cx="72.1" cy="207.0" r="0.45"/><circle cx="58.6" cy="219.1" r="0.45"/><circle cx="59.1" cy="222.2" r="0.45"/><circle cx="80.4" cy="209.6" r="0.45"/><circle cx="66.8" cy="213.7" r="0.45"/><circle cx="65.6" cy="215.2" r="0.45"/><circle cx="58.1" cy="223.7" r="0.45"/><circle cx="80.5" cy="213.1" r="0.45"/><circle cx="68.8" cy="211.3" r="0.45"/><circle cx="74.6" cy="205.9" r="0.45"/><circle cx="60.2" cy="217.7" r="0.45"/><circle cx="63.4" cy="215.0" r="0.45"/><circle cx="70.2" cy="205.9" r="0.45"/><circle cx="58.5" cy="214.7" r="0.45"/><circle cx="64.3" cy="223.4" r="0.45"/><circle cx="65.8" cy="212.5" r="0.45"/></g>
<g fill="#ffffff" fill-opacity="0.35"><circle cx="50.7" cy="203.4" r="0.5"/><circle cx="63.4" cy="198.1" r="0.5"/><circle cx="51.3" cy="205.7" r="0.5"/><circle cx="47.9" cy="202.5" r="0.5"/><circle cx="57.8" cy="183.8" r="0.5"/><circle cx="57.3" cy="187.6" r="0.5"/><circle cx="49.5" cy="204.9" r="0.5"/><circle cx="52.1" cy="190.7" r="0.5"/><circle cx="59.1" cy="205.7" r="0.5"/><circle cx="62.0" cy="193.8" r="0.5"/><circle cx="63.8" cy="195.6" r="0.5"/><circle cx="51.1" cy="185.7" r="0.5"/><circle cx="58.8" cy="191.4" r="0.5"/><circle cx="57.9" cy="191.7" r="0.5"/><circle cx="53.2" cy="191.3" r="0.5"/><circle cx="53.5" cy="204.0" r="0.5"/><circle cx="55.9" cy="198.2" r="0.5"/><circle cx="52.6" cy="193.5" r="0.5"/><circle cx="49.6" cy="195.6" r="0.5"/><circle cx="49.9" cy="200.9" r="0.5"/><circle cx="49.2" cy="202.2" r="0.5"/><circle cx="57.6" cy="198.9" r="0.5"/><circle cx="59.5" cy="192.0" r="0.5"/><circle cx="44.8" cy="197.8" r="0.5"/><circle cx="48.7" cy="195.8" r="0.5"/><circle cx="46.7" cy="188.5" r="0.5"/><circle cx="55.3" cy="201.2" r="0.5"/><circle cx="50.4" cy="203.1" r="0.5"/><circle cx="56.6" cy="186.4" r="0.5"/><circle cx="43.6" cy="193.5" r="0.5"/><circle cx="57.0" cy="201.1" r="0.5"/><circle cx="55.4" cy="192.5" r="0.5"/><circle cx="54.6" cy="183.1" r="0.5"/><circle cx="59.9" cy="202.8" r="0.5"/><circle cx="44.1" cy="188.5" r="0.5"/><circle cx="46.1" cy="186.7" r="0.5"/><circle cx="62.2" cy="201.6" r="0.5"/><circle cx="46.6" cy="193.9" r="0.5"/><circle cx="43.8" cy="190.9" r="0.5"/><circle cx="48.7" cy="200.6" r="0.5"/><circle cx="61.6" cy="190.5" r="0.5"/><circle cx="62.8" cy="188.8" r="0.5"/><circle cx="49.5" cy="194.6" r="0.5"/><circle cx="45.3" cy="197.2" r="0.5"/><circle cx="58.9" cy="202.9" r="0.5"/><circle cx="51.6" cy="189.6" r="0.5"/><circle cx="43.8" cy="193.9" r="0.5"/><circle cx="59.8" cy="193.4" r="0.5"/><circle cx="52.6" cy="202.3" r="0.5"/><circle cx="56.0" cy="202.5" r="0.5"/><circle cx="52.7" cy="193.0" r="0.5"/><circle cx="47.0" cy="202.9" r="0.5"/><circle cx="52.4" cy="200.7" r="0.5"/><circle cx="53.3" cy="195.1" r="0.5"/><circle cx="49.6" cy="183.8" r="0.5"/><circle cx="53.6" cy="187.6" r="0.5"/><circle cx="58.1" cy="193.5" r="0.5"/><circle cx="46.5" cy="186.9" r="0.5"/><circle cx="43.6" cy="193.7" r="0.5"/><circle cx="49.7" cy="199.6" r="0.5"/><circle cx="57.3" cy="199.5" r="0.5"/><circle cx="60.1" cy="192.1" r="0.5"/><circle cx="53.8" cy="189.9" r="0.5"/><circle cx="59.4" cy="190.1" r="0.5"/><circle cx="48.7" cy="190.3" r="0.5"/><circle cx="47.4" cy="186.7" r="0.5"/><circle cx="56.2" cy="188.4" r="0.5"/><circle cx="59.6" cy="199.9" r="0.5"/><circle cx="61.5" cy="199.1" r="0.5"/><circle cx="52.8" cy="190.0" r="0.5"/><circle cx="43.9" cy="198.5" r="0.5"/><circle cx="56.0" cy="193.1" r="0.5"/><circle cx="53.6" cy="193.4" r="0.5"/><circle cx="51.5" cy="199.6" r="0.5"/><circle cx="54.1" cy="201.4" r="0.5"/><circle cx="58.3" cy="190.1" r="0.5"/><circle cx="63.1" cy="196.0" r="0.5"/><circle cx="61.1" cy="198.5" r="0.5"/><circle cx="49.8" cy="195.1" r="0.5"/><circle cx="45.4" cy="199.4" r="0.5"/><circle cx="58.1" cy="200.4" r="0.5"/><circle cx="57.1" cy="195.3" r="0.5"/><circle cx="57.7" cy="190.1" r="0.5"/><circle cx="60.4" cy="197.1" r="0.5"/><circle cx="51.2" cy="188.2" r="0.5"/><circle cx="50.8" cy="202.1" r="0.5"/><circle cx="57.9" cy="191.2" r="0.5"/><circle cx="62.0" cy="193.6" r="0.5"/><circle cx="54.5" cy="184.6" r="0.5"/><circle cx="58.2" cy="191.8" r="0.5"/></g>
<g fill="#0c5a26" fill-opacity="0.5"><circle cx="47.2" cy="186.9" r="0.5"/><circle cx="60.2" cy="200.9" r="0.5"/><circle cx="50.9" cy="187.3" r="0.5"/><circle cx="59.7" cy="200.7" r="0.5"/><circle cx="62.5" cy="194.4" r="0.5"/><circle cx="61.5" cy="194.9" r="0.5"/><circle cx="53.6" cy="202.3" r="0.5"/><circle cx="57.6" cy="206.2" r="0.5"/><circle cx="55.9" cy="190.0" r="0.5"/><circle cx="58.4" cy="203.1" r="0.5"/><circle cx="57.4" cy="198.5" r="0.5"/><circle cx="47.3" cy="190.8" r="0.5"/><circle cx="59.7" cy="188.6" r="0.5"/><circle cx="49.3" cy="203.9" r="0.5"/><circle cx="63.3" cy="189.8" r="0.5"/><circle cx="55.9" cy="192.0" r="0.5"/><circle cx="59.0" cy="201.2" r="0.5"/><circle cx="54.8" cy="204.6" r="0.5"/><circle cx="60.3" cy="198.1" r="0.5"/><circle cx="46.0" cy="186.1" r="0.5"/><circle cx="49.0" cy="194.7" r="0.5"/><circle cx="49.4" cy="193.1" r="0.5"/><circle cx="49.0" cy="188.3" r="0.5"/><circle cx="58.0" cy="198.8" r="0.5"/><circle cx="46.0" cy="190.2" r="0.5"/><circle cx="59.4" cy="203.3" r="0.5"/><circle cx="54.2" cy="204.6" r="0.5"/><circle cx="59.8" cy="203.0" r="0.5"/><circle cx="52.6" cy="193.7" r="0.5"/><circle cx="58.8" cy="202.8" r="0.5"/><circle cx="58.4" cy="191.2" r="0.5"/><circle cx="42.8" cy="191.4" r="0.5"/><circle cx="55.9" cy="194.5" r="0.5"/><circle cx="56.4" cy="190.0" r="0.5"/><circle cx="52.8" cy="191.6" r="0.5"/><circle cx="56.4" cy="204.0" r="0.5"/><circle cx="55.0" cy="190.2" r="0.5"/><circle cx="49.9" cy="202.9" r="0.5"/><circle cx="58.6" cy="191.0" r="0.5"/><circle cx="62.5" cy="197.0" r="0.5"/><circle cx="43.7" cy="193.3" r="0.5"/><circle cx="47.2" cy="187.5" r="0.5"/><circle cx="54.2" cy="205.0" r="0.5"/><circle cx="56.8" cy="203.5" r="0.5"/><circle cx="56.7" cy="196.3" r="0.5"/><circle cx="52.4" cy="196.3" r="0.5"/><circle cx="48.7" cy="195.0" r="0.5"/><circle cx="58.7" cy="184.9" r="0.5"/><circle cx="59.8" cy="197.1" r="0.5"/><circle cx="43.5" cy="191.3" r="0.5"/><circle cx="63.1" cy="200.4" r="0.5"/><circle cx="45.7" cy="197.9" r="0.5"/><circle cx="43.9" cy="192.6" r="0.5"/><circle cx="53.6" cy="206.1" r="0.5"/><circle cx="53.1" cy="200.8" r="0.5"/><circle cx="55.6" cy="191.6" r="0.5"/><circle cx="60.7" cy="204.4" r="0.5"/><circle cx="56.6" cy="203.8" r="0.5"/><circle cx="44.7" cy="196.3" r="0.5"/><circle cx="53.4" cy="204.4" r="0.5"/></g>
<g fill="#ffffff" fill-opacity="0.35"><circle cx="79.7" cy="185.0" r="0.5"/><circle cx="75.9" cy="183.7" r="0.5"/><circle cx="72.2" cy="183.6" r="0.5"/><circle cx="75.6" cy="180.9" r="0.5"/><circle cx="71.0" cy="195.6" r="0.5"/><circle cx="78.1" cy="185.4" r="0.5"/><circle cx="72.2" cy="194.3" r="0.5"/><circle cx="69.8" cy="197.5" r="0.5"/><circle cx="71.5" cy="197.7" r="0.5"/><circle cx="77.1" cy="185.4" r="0.5"/><circle cx="81.3" cy="185.4" r="0.5"/><circle cx="71.6" cy="199.7" r="0.5"/><circle cx="70.6" cy="190.6" r="0.5"/><circle cx="77.9" cy="185.0" r="0.5"/><circle cx="81.5" cy="189.7" r="0.5"/><circle cx="76.7" cy="191.1" r="0.5"/><circle cx="77.4" cy="189.5" r="0.5"/><circle cx="73.8" cy="184.0" r="0.5"/><circle cx="72.2" cy="192.4" r="0.5"/><circle cx="75.1" cy="196.4" r="0.5"/><circle cx="82.0" cy="188.2" r="0.5"/><circle cx="75.5" cy="187.1" r="0.5"/><circle cx="78.5" cy="190.2" r="0.5"/><circle cx="71.1" cy="193.4" r="0.5"/><circle cx="70.9" cy="186.8" r="0.5"/><circle cx="75.3" cy="199.0" r="0.5"/><circle cx="80.5" cy="193.5" r="0.5"/><circle cx="76.1" cy="186.4" r="0.5"/><circle cx="76.8" cy="190.8" r="0.5"/><circle cx="76.6" cy="191.4" r="0.5"/><circle cx="72.5" cy="188.1" r="0.5"/><circle cx="74.8" cy="181.8" r="0.5"/><circle cx="70.5" cy="196.6" r="0.5"/><circle cx="74.0" cy="196.0" r="0.5"/><circle cx="81.6" cy="194.7" r="0.5"/><circle cx="76.0" cy="198.9" r="0.5"/><circle cx="77.2" cy="181.1" r="0.5"/><circle cx="80.8" cy="190.9" r="0.5"/><circle cx="76.6" cy="196.2" r="0.5"/><circle cx="79.2" cy="201.5" r="0.5"/><circle cx="78.3" cy="183.7" r="0.5"/><circle cx="78.8" cy="196.9" r="0.5"/><circle cx="78.4" cy="195.4" r="0.5"/><circle cx="75.0" cy="187.5" r="0.5"/><circle cx="77.6" cy="185.1" r="0.5"/><circle cx="81.0" cy="183.7" r="0.5"/><circle cx="77.3" cy="194.8" r="0.5"/><circle cx="73.3" cy="183.2" r="0.5"/><circle cx="78.2" cy="198.3" r="0.5"/><circle cx="75.6" cy="186.4" r="0.5"/><circle cx="76.8" cy="180.6" r="0.5"/><circle cx="77.2" cy="197.9" r="0.5"/><circle cx="73.9" cy="201.2" r="0.5"/><circle cx="70.7" cy="185.9" r="0.5"/><circle cx="78.1" cy="192.9" r="0.5"/><circle cx="81.0" cy="181.7" r="0.5"/><circle cx="81.2" cy="194.3" r="0.5"/><circle cx="69.2" cy="200.2" r="0.5"/><circle cx="73.3" cy="191.3" r="0.5"/><circle cx="83.1" cy="188.7" r="0.5"/></g>
<g fill="#ffffff" fill-opacity="0.35"><circle cx="51.5" cy="212.3" r="0.5"/><circle cx="55.7" cy="223.4" r="0.5"/><circle cx="48.2" cy="224.4" r="0.5"/><circle cx="52.2" cy="212.4" r="0.5"/><circle cx="53.3" cy="210.8" r="0.5"/><circle cx="47.3" cy="220.9" r="0.5"/><circle cx="46.0" cy="219.4" r="0.5"/><circle cx="51.0" cy="212.8" r="0.5"/><circle cx="50.8" cy="212.7" r="0.5"/><circle cx="55.2" cy="213.1" r="0.5"/><circle cx="40.6" cy="222.7" r="0.5"/><circle cx="44.3" cy="216.2" r="0.5"/><circle cx="46.4" cy="217.3" r="0.5"/><circle cx="54.4" cy="212.6" r="0.5"/><circle cx="54.3" cy="221.8" r="0.5"/><circle cx="49.6" cy="219.8" r="0.5"/><circle cx="46.4" cy="219.3" r="0.5"/><circle cx="54.5" cy="221.6" r="0.5"/><circle cx="48.2" cy="223.1" r="0.5"/><circle cx="50.2" cy="217.7" r="0.5"/><circle cx="52.4" cy="217.7" r="0.5"/><circle cx="47.3" cy="220.3" r="0.5"/><circle cx="41.3" cy="219.6" r="0.5"/><circle cx="47.4" cy="223.7" r="0.5"/><circle cx="50.9" cy="223.9" r="0.5"/><circle cx="53.4" cy="215.5" r="0.5"/><circle cx="51.0" cy="213.0" r="0.5"/><circle cx="45.2" cy="219.9" r="0.5"/><circle cx="44.4" cy="217.2" r="0.5"/><circle cx="48.8" cy="224.5" r="0.5"/><circle cx="41.4" cy="223.3" r="0.5"/><circle cx="42.2" cy="219.9" r="0.5"/><circle cx="48.8" cy="215.0" r="0.5"/><circle cx="49.9" cy="218.4" r="0.5"/><circle cx="52.7" cy="215.1" r="0.5"/><circle cx="48.7" cy="218.2" r="0.5"/><circle cx="55.4" cy="222.7" r="0.5"/><circle cx="53.2" cy="210.9" r="0.5"/><circle cx="45.8" cy="214.5" r="0.5"/><circle cx="47.5" cy="220.5" r="0.5"/></g>
<g fill="#ffffff" fill-opacity="0.3"><circle cx="58.6" cy="217.1" r="0.5"/><circle cx="77.8" cy="217.4" r="0.5"/><circle cx="68.1" cy="223.1" r="0.5"/><circle cx="76.3" cy="206.7" r="0.5"/><circle cx="68.4" cy="212.6" r="0.5"/><circle cx="59.3" cy="222.1" r="0.5"/><circle cx="64.2" cy="221.0" r="0.5"/><circle cx="63.0" cy="215.4" r="0.5"/><circle cx="69.5" cy="215.8" r="0.5"/><circle cx="75.4" cy="219.2" r="0.5"/><circle cx="72.7" cy="210.7" r="0.5"/><circle cx="72.6" cy="211.5" r="0.5"/><circle cx="73.5" cy="219.3" r="0.5"/><circle cx="76.9" cy="221.6" r="0.5"/><circle cx="65.0" cy="217.3" r="0.5"/><circle cx="77.5" cy="220.1" r="0.5"/><circle cx="79.1" cy="212.2" r="0.5"/><circle cx="77.2" cy="222.6" r="0.5"/><circle cx="64.2" cy="215.4" r="0.5"/><circle cx="60.3" cy="221.2" r="0.5"/><circle cx="77.9" cy="209.4" r="0.5"/><circle cx="71.7" cy="223.0" r="0.5"/><circle cx="77.0" cy="217.5" r="0.5"/><circle cx="75.2" cy="218.2" r="0.5"/><circle cx="76.9" cy="210.3" r="0.5"/><circle cx="62.1" cy="223.6" r="0.5"/><circle cx="63.4" cy="222.6" r="0.5"/><circle cx="80.4" cy="211.2" r="0.5"/><circle cx="66.9" cy="217.8" r="0.5"/><circle cx="79.8" cy="209.4" r="0.5"/><circle cx="67.7" cy="214.6" r="0.5"/><circle cx="66.9" cy="218.4" r="0.5"/><circle cx="69.1" cy="215.9" r="0.5"/><circle cx="65.5" cy="223.2" r="0.5"/><circle cx="68.8" cy="224.1" r="0.5"/><circle cx="70.9" cy="207.0" r="0.5"/><circle cx="69.4" cy="225.0" r="0.5"/><circle cx="61.0" cy="224.9" r="0.5"/><circle cx="69.5" cy="210.8" r="0.5"/><circle cx="65.8" cy="216.8" r="0.5"/><circle cx="62.4" cy="220.8" r="0.5"/><circle cx="65.5" cy="214.4" r="0.5"/><circle cx="79.5" cy="214.3" r="0.5"/><circle cx="66.6" cy="220.9" r="0.5"/><circle cx="79.1" cy="219.3" r="0.5"/><circle cx="69.1" cy="224.1" r="0.5"/><circle cx="62.9" cy="224.6" r="0.5"/><circle cx="73.1" cy="208.6" r="0.5"/><circle cx="64.9" cy="219.6" r="0.5"/><circle cx="74.1" cy="217.0" r="0.5"/><circle cx="60.1" cy="215.6" r="0.5"/><circle cx="73.1" cy="220.4" r="0.5"/><circle cx="62.7" cy="216.9" r="0.5"/><circle cx="73.2" cy="210.5" r="0.5"/><circle cx="79.9" cy="206.8" r="0.5"/><circle cx="64.7" cy="223.4" r="0.5"/><circle cx="73.7" cy="215.6" r="0.5"/><circle cx="66.2" cy="219.6" r="0.5"/><circle cx="70.2" cy="208.7" r="0.5"/><circle cx="71.1" cy="225.3" r="0.5"/></g>
<rect x="31.1" y="168.7" width="57.2" height="57.9" fill="none" stroke="#1a1a1a" stroke-width="1.4"/>
<polyline points="65.6,168.7 65.6,203.3" fill="none" stroke="#1a1a1a" stroke-width="1.4" stroke-linejoin="round" stroke-linecap="butt"/>
<polyline points="88.3,203.3 64,203.3 57.2,207.9 31.1,207.9" fill="none" stroke="#1a1a1a" stroke-width="1.4" stroke-linejoin="round" stroke-linecap="butt"/>
<polyline points="57.2,207.9 57.2,226.6" fill="none" stroke="#1a1a1a" stroke-width="1.4" stroke-linejoin="round" stroke-linecap="butt"/>
<text x="129.8" y="411.8" font-size="10" text-anchor="middle" fill="#1a1a1a">Neuts</text>
<text x="174.3" y="405.1" font-size="10" text-anchor="middle" fill="#1a1a1a">CD14+</text>
<text x="174.3" y="417.8" font-size="10" text-anchor="middle" fill="#1a1a1a">Mono</text>
<text x="218.3" y="405.1" font-size="10" text-anchor="middle" fill="#1a1a1a">CD16+</text>
<text x="218.3" y="417.8" font-size="10" text-anchor="middle" fill="#1a1a1a">Mono</text>
<text x="263.3" y="405.1" font-size="10" text-anchor="middle" fill="#1a1a1a">CD1c<tspan font-size="6" dy="-3.5">+</tspan></text>
<text x="263.3" y="417.8" font-size="10" text-anchor="middle" fill="#1a1a1a">mDC</text>
<text x="309.5" y="405.1" font-size="10" text-anchor="middle" fill="#1a1a1a">CD123+</text>
<text x="309.5" y="417.8" font-size="10" text-anchor="middle" fill="#1a1a1a">pDC</text>
<text x="352.8" y="411.8" font-size="10" text-anchor="middle" fill="#1a1a1a">T</text>
<text x="397.8" y="411.8" font-size="10" text-anchor="middle" fill="#1a1a1a">B</text>
<text x="442.7" y="411.8" font-size="10" text-anchor="middle" fill="#1a1a1a">NK</text>
<text x="493.3" y="411.8" font-size="10" text-anchor="middle" fill="#1a1a1a">HCL</text>
<ellipse cx="127.9" cy="436.3" rx="11.5" ry="12.6" fill="url(#gSphere)"/>
<circle cx="123.8" cy="435" r="3.7" fill="url(#gLobe)" stroke="#111" stroke-width="1.1"/>
<circle cx="133.6" cy="438.4" r="3.0" fill="url(#gLobe)" stroke="#111" stroke-width="1.1"/>
<circle cx="127.4" cy="440.8" r="4.4" fill="url(#gLobe)" stroke="#111" stroke-width="1.1"/>
<circle cx="174.4" cy="438.6" r="9.6" fill="url(#gCD14)" stroke="#c8222a" stroke-width="0.8"/>
<path d="M166.89,435.97 A8.6,8.6 0 1 1 178.14,446.28 Q178.19,444.21 176.64,442.15 A4.2,4.2 0 1 0 171.14,437.11 Z" fill="#dc1a22"/>
<circle cx="218" cy="438.3" r="9.9" fill="url(#gCD16)"/>
<path d="M258.36,429.91 L254.56,424.42 L253.84,424.78 L256.04,431.09 Z" fill="#555d88"/>
<path d="M267.79,430.19 L267.80,424.06 L267.00,423.94 L265.21,429.81 Z" fill="#555d88"/>
<path d="M270.85,434.55 L276.41,432.09 L276.19,431.31 L270.15,432.05 Z" fill="#555d88"/>
<path d="M271.37,439.79 L278.46,439.60 L278.54,438.80 L271.63,437.21 Z" fill="#555d88"/>
<path d="M267.24,444.37 L271.70,447.97 L272.30,447.43 L269.16,442.63 Z" fill="#555d88"/>
<path d="M255.36,442.88 L254.15,447.01 L254.85,447.39 L257.64,444.12 Z" fill="#555d88"/>
<path d="M254.50,435.00 L249.20,435.90 L249.20,436.70 L254.50,437.60 Z" fill="#555d88"/>
<ellipse cx="263.2" cy="437.5" rx="9.8" ry="8.6" fill="url(#gCD1cOut)"/>
<ellipse cx="262.3" cy="437.8" rx="7.5" ry="6.9" fill="url(#gCD1c)"/>
<ellipse cx="310.1" cy="439.4" rx="8.9" ry="8.6" fill="url(#gSphere)"/><ellipse cx="306.3" cy="439.4" rx="4.8" ry="5.4" fill="url(#gNuc)"/>
<ellipse cx="353.3" cy="439.3" rx="9.5" ry="8.8" fill="url(#gSphere)"/><ellipse cx="350.7" cy="439.5" rx="7.0" ry="7.4" fill="url(#gNuc)"/>
<ellipse cx="398.5" cy="439.5" rx="9.5" ry="8.8" fill="url(#gSphere)"/><ellipse cx="394.2" cy="439.0" rx="4.8" ry="6.2" fill="url(#gNuc)"/>
<ellipse cx="442.8" cy="438.5" rx="9.3" ry="8.8" fill="url(#gSphere)"/><ellipse cx="445.3" cy="442.0" rx="4.5" ry="4.3" fill="url(#gNuc)"/>
<defs><filter id="fblur" x="-50%" y="-50%" width="200%" height="200%"><feGaussianBlur stdDeviation="1.1"/></filter></defs>
<ellipse cx="492.3" cy="432.5" rx="14.5" ry="9.6" transform="rotate(-55 492.3 432.5)" fill="#c9cbc4" opacity="0.75" filter="url(#fblur)"/>
<g stroke-width="0.6" stroke-opacity="0.8" stroke-linecap="round"><line x1="487.4" y1="439.5" x2="485.9" y2="442.2" stroke="#b2b2b2"/><line x1="500.6" y1="428.2" x2="503.0" y2="426.6" stroke="#7c7c7c"/><line x1="500.4" y1="427.4" x2="503.6" y2="424.7" stroke="#7c7c7c"/><line x1="495.9" y1="424.6" x2="498.4" y2="420.1" stroke="#a2a2a2"/><line x1="494.3" y1="439.6" x2="494.1" y2="442.2" stroke="#a2a2a2"/><line x1="493.8" y1="441.9" x2="495.1" y2="448.2" stroke="#a2a2a2"/><line x1="485.8" y1="429.1" x2="481.1" y2="428.1" stroke="#b2b2b2"/><line x1="500.4" y1="425.7" x2="503.7" y2="422.2" stroke="#7c7c7c"/><line x1="496.3" y1="439.4" x2="497.6" y2="443.6" stroke="#a2a2a2"/><line x1="499.6" y1="427.7" x2="501.3" y2="427.4" stroke="#8e8e8e"/><line x1="488.0" y1="439.0" x2="486.3" y2="441.8" stroke="#8e8e8e"/><line x1="501.3" y1="433.8" x2="504.5" y2="434.5" stroke="#8e8e8e"/><line x1="496.6" y1="422.6" x2="498.6" y2="419.2" stroke="#b2b2b2"/><line x1="491.5" y1="422.2" x2="490.3" y2="417.3" stroke="#b2b2b2"/><line x1="484.1" y1="434.9" x2="480.2" y2="435.7" stroke="#8e8e8e"/><line x1="497.7" y1="424.0" x2="499.6" y2="421.9" stroke="#b2b2b2"/><line x1="486.2" y1="435.8" x2="484.7" y2="437.7" stroke="#8e8e8e"/><line x1="500.0" y1="430.6" x2="505.3" y2="429.6" stroke="#b2b2b2"/><line x1="495.1" y1="439.0" x2="496.5" y2="440.8" stroke="#b2b2b2"/><line x1="490.0" y1="439.9" x2="488.4" y2="445.3" stroke="#7c7c7c"/><line x1="486.8" y1="439.3" x2="483.8" y2="443.5" stroke="#8e8e8e"/><line x1="497.1" y1="437.4" x2="498.9" y2="439.2" stroke="#8e8e8e"/><line x1="491.1" y1="439.4" x2="491.0" y2="443.7" stroke="#8e8e8e"/><line x1="495.4" y1="424.3" x2="496.8" y2="422.6" stroke="#7c7c7c"/><line x1="495.8" y1="424.5" x2="496.6" y2="420.7" stroke="#b2b2b2"/><line x1="491.6" y1="422.9" x2="492.0" y2="420.9" stroke="#8e8e8e"/><line x1="486.9" y1="426.6" x2="483.3" y2="424.8" stroke="#7c7c7c"/><line x1="484.5" y1="430.0" x2="482.7" y2="429.5" stroke="#7c7c7c"/><line x1="493.7" y1="423.6" x2="494.0" y2="420.1" stroke="#b2b2b2"/><line x1="491.7" y1="440.4" x2="491.2" y2="444.7" stroke="#a2a2a2"/><line x1="493.1" y1="421.2" x2="493.7" y2="418.8" stroke="#b2b2b2"/><line x1="486.9" y1="439.5" x2="484.4" y2="442.6" stroke="#8e8e8e"/><line x1="487.0" y1="425.1" x2="483.2" y2="421.3" stroke="#8e8e8e"/><line x1="500.7" y1="430.9" x2="506.1" y2="431.1" stroke="#b2b2b2"/><line x1="490.6" y1="439.3" x2="490.2" y2="443.8" stroke="#7c7c7c"/><line x1="489.0" y1="440.6" x2="488.0" y2="443.7" stroke="#b2b2b2"/><line x1="495.2" y1="439.6" x2="497.6" y2="444.6" stroke="#7c7c7c"/><line x1="485.6" y1="432.4" x2="479.8" y2="433.4" stroke="#a2a2a2"/><line x1="490.3" y1="440.6" x2="488.9" y2="444.7" stroke="#a2a2a2"/><line x1="491.3" y1="441.2" x2="491.4" y2="445.8" stroke="#7c7c7c"/><line x1="500.1" y1="428.7" x2="501.8" y2="428.4" stroke="#a2a2a2"/><line x1="488.6" y1="440.1" x2="486.6" y2="443.9" stroke="#8e8e8e"/><line x1="486.5" y1="439.3" x2="484.9" y2="441.9" stroke="#8e8e8e"/><line x1="493.1" y1="422.7" x2="493.2" y2="417.0" stroke="#8e8e8e"/><line x1="500.5" y1="434.6" x2="504.5" y2="436.7" stroke="#a2a2a2"/><line x1="492.6" y1="440.1" x2="492.0" y2="446.7" stroke="#7c7c7c"/><line x1="488.3" y1="437.9" x2="487.3" y2="441.3" stroke="#a2a2a2"/><line x1="499.3" y1="438.3" x2="501.0" y2="440.6" stroke="#b2b2b2"/><line x1="485.1" y1="430.7" x2="480.0" y2="429.4" stroke="#a2a2a2"/><line x1="495.0" y1="441.0" x2="495.1" y2="443.7" stroke="#b2b2b2"/><line x1="497.4" y1="439.7" x2="499.5" y2="443.5" stroke="#8e8e8e"/><line x1="489.7" y1="423.0" x2="487.5" y2="417.9" stroke="#8e8e8e"/><line x1="484.6" y1="433.9" x2="480.2" y2="435.1" stroke="#7c7c7c"/><line x1="486.0" y1="426.7" x2="482.0" y2="425.0" stroke="#7c7c7c"/><line x1="490.2" y1="441.4" x2="490.0" y2="445.7" stroke="#b2b2b2"/><line x1="487.4" y1="437.6" x2="484.5" y2="441.2" stroke="#b2b2b2"/><line x1="491.3" y1="422.2" x2="490.0" y2="417.0" stroke="#7c7c7c"/><line x1="498.4" y1="426.2" x2="500.8" y2="424.0" stroke="#a2a2a2"/><line x1="488.7" y1="440.2" x2="487.7" y2="442.2" stroke="#8e8e8e"/><line x1="500.8" y1="432.9" x2="504.1" y2="433.4" stroke="#8e8e8e"/><line x1="493.9" y1="422.2" x2="495.0" y2="418.1" stroke="#8e8e8e"/><line x1="483.9" y1="435.0" x2="479.7" y2="436.1" stroke="#a2a2a2"/><line x1="485.2" y1="437.6" x2="482.8" y2="439.6" stroke="#a2a2a2"/><line x1="485.4" y1="431.2" x2="480.3" y2="431.5" stroke="#8e8e8e"/><line x1="492.3" y1="439.2" x2="492.4" y2="442.9" stroke="#a2a2a2"/><line x1="500.0" y1="426.3" x2="503.3" y2="424.6" stroke="#8e8e8e"/><line x1="486.2" y1="428.1" x2="482.7" y2="426.3" stroke="#8e8e8e"/><line x1="487.8" y1="437.8" x2="486.6" y2="440.8" stroke="#7c7c7c"/><line x1="499.4" y1="426.6" x2="503.1" y2="423.8" stroke="#a2a2a2"/><line x1="489.3" y1="439.0" x2="488.1" y2="441.5" stroke="#8e8e8e"/><line x1="490.6" y1="439.9" x2="489.5" y2="444.9" stroke="#7c7c7c"/><line x1="485.7" y1="438.3" x2="482.5" y2="442.4" stroke="#b2b2b2"/><line x1="488.4" y1="422.2" x2="485.9" y2="418.1" stroke="#8e8e8e"/><line x1="483.3" y1="432.1" x2="480.5" y2="432.3" stroke="#a2a2a2"/><line x1="485.1" y1="431.5" x2="482.9" y2="431.2" stroke="#7c7c7c"/><line x1="498.7" y1="423.9" x2="503.0" y2="418.7" stroke="#a2a2a2"/><line x1="500.4" y1="433.3" x2="502.4" y2="433.9" stroke="#b2b2b2"/><line x1="498.8" y1="436.2" x2="500.7" y2="437.8" stroke="#7c7c7c"/><line x1="494.4" y1="422.8" x2="495.7" y2="419.0" stroke="#7c7c7c"/><line x1="498.2" y1="425.8" x2="500.1" y2="423.6" stroke="#b2b2b2"/></g>
<ellipse cx="492.7" cy="431.2" rx="8.6" ry="9.4" fill="#e6eed8"/>
<path d="M487.2,425.2 Q491.5,422.6 496.8,423.6 Q500.2,426.5 499.2,431.8 Q498.6,436.2 495,438.5 Q490.5,439.8 487.8,437 Q485.6,432.5 486.1,428.2 Z" fill="url(#gHCL)" stroke="#587436" stroke-width="1"/>
<rect x="378.9" y="455.7" width="44.90" height="14.60" fill="#cbcbcb"/>
<rect x="423.8" y="455.7" width="44.20" height="14.60" fill="#cbcbcb"/>
<rect x="468" y="455.7" width="44.40" height="14.60" fill="#cbcbcb"/>
<rect x="378.9" y="470.3" width="44.90" height="14.60" fill="#cbcbcb"/>
<rect x="423.8" y="470.3" width="44.20" height="14.60" fill="#cbcbcb"/>
<rect x="468" y="470.3" width="44.40" height="14.60" fill="#cbcbcb"/>
<rect x="334.1" y="484.90000000000003" width="44.80" height="14.60" fill="#cbcbcb"/>
<rect x="378.9" y="484.90000000000003" width="44.90" height="14.60" fill="#cbcbcb"/>
<rect x="423.8" y="484.90000000000003" width="44.20" height="14.60" fill="#cbcbcb"/>
<rect x="468" y="484.90000000000003" width="44.40" height="14.60" fill="#cbcbcb"/>
<rect x="334.1" y="499.50000000000006" width="44.80" height="14.60" fill="#cbcbcb"/>
<rect x="378.9" y="499.50000000000006" width="44.90" height="14.60" fill="#cbcbcb"/>
<rect x="423.8" y="499.50000000000006" width="44.20" height="14.60" fill="#cbcbcb"/>
<rect x="468" y="499.50000000000006" width="44.40" height="14.60" fill="#cbcbcb"/>
<text x="42.900000000000006" y="488.5" font-size="10" text-anchor="middle" font-weight="bold" fill="#111">HCL</text>
<text x="88.7" y="466.6" font-size="10" text-anchor="middle" font-weight="bold" fill="#111">A2123</text>
<text x="130.25" y="466.6" font-size="10" text-anchor="middle" fill="#111">0.00</text>
<text x="174.55" y="466.6" font-size="10" text-anchor="middle" fill="#111">0.00</text>
<text x="218.89999999999998" y="466.6" font-size="10" text-anchor="middle" fill="#111">0.00</text>
<text x="263.5" y="466.6" font-size="10" text-anchor="middle" fill="#111">0.00</text>
<text x="309.95000000000005" y="466.6" font-size="10" text-anchor="middle" fill="#111">0.00</text>
<text x="356.5" y="466.6" font-size="10" text-anchor="middle" fill="#111">0.00</text>
<text x="401.35" y="466.6" font-size="10" text-anchor="middle" fill="#111">0.05</text>
<text x="445.9" y="466.6" font-size="10" text-anchor="middle" fill="#111">0.40</text>
<text x="490.2" y="466.6" font-size="10" text-anchor="middle" fill="#111">22.85</text>
<text x="88.7" y="481.20000000000005" font-size="10" text-anchor="middle" font-weight="bold" fill="#111">A7044</text>
<text x="130.25" y="481.20000000000005" font-size="10" text-anchor="middle" fill="#111">0.00</text>
<text x="174.55" y="481.20000000000005" font-size="10" text-anchor="middle" fill="#111">0.00</text>
<text x="218.89999999999998" y="481.20000000000005" font-size="10" text-anchor="middle" fill="#111">0.00</text>
<text x="263.5" y="481.20000000000005" font-size="10" text-anchor="middle" fill="#111">0.00</text>
<text x="309.95000000000005" y="481.20000000000005" font-size="10" text-anchor="middle" fill="#111">0.00</text>
<text x="356.5" y="481.20000000000005" font-size="10" text-anchor="middle" fill="#111">0.00</text>
<text x="401.35" y="481.20000000000005" font-size="10" text-anchor="middle" fill="#111">0.35</text>
<text x="445.9" y="481.20000000000005" font-size="10" text-anchor="middle" fill="#111">1.06</text>
<text x="490.2" y="481.20000000000005" font-size="10" text-anchor="middle" fill="#111">73.65</text>
<text x="88.7" y="495.80000000000007" font-size="10" text-anchor="middle" font-weight="bold" fill="#111">A7073</text>
<text x="130.25" y="495.80000000000007" font-size="10" text-anchor="middle" fill="#111">0.00</text>
<text x="174.55" y="495.80000000000007" font-size="10" text-anchor="middle" fill="#111">NT</text>
<text x="218.89999999999998" y="495.80000000000007" font-size="10" text-anchor="middle" fill="#111">NT</text>
<text x="263.5" y="495.80000000000007" font-size="10" text-anchor="middle" fill="#111">NT</text>
<text x="309.95000000000005" y="495.80000000000007" font-size="10" text-anchor="middle" fill="#111">NT</text>
<text x="356.5" y="495.80000000000007" font-size="10" text-anchor="middle" fill="#111">0.01</text>
<text x="401.35" y="495.80000000000007" font-size="10" text-anchor="middle" fill="#111">26.87</text>
<text x="445.9" y="495.80000000000007" font-size="10" text-anchor="middle" fill="#111">0.10</text>
<text x="490.2" y="495.80000000000007" font-size="10" text-anchor="middle" fill="#111">38.21</text>
<text x="90.7" y="510.4000000000001" font-size="10" text-anchor="middle" font-weight="bold" fill="#111">A7264</text>
<text x="130.25" y="510.4000000000001" font-size="10" text-anchor="middle" fill="#111">0.00</text>
<text x="174.55" y="510.4000000000001" font-size="10" text-anchor="middle" fill="#111">0.00</text>
<text x="218.89999999999998" y="510.4000000000001" font-size="10" text-anchor="middle" fill="#111">0.00</text>
<text x="263.5" y="510.4000000000001" font-size="10" text-anchor="middle" fill="#111">0.00</text>
<text x="309.95000000000005" y="510.4000000000001" font-size="10" text-anchor="middle" fill="#111">0.00</text>
<text x="356.5" y="510.4000000000001" font-size="10" text-anchor="middle" fill="#111">0.03</text>
<text x="401.35" y="510.4000000000001" font-size="10" text-anchor="middle" fill="#111">0.29</text>
<text x="445.9" y="510.4000000000001" font-size="10" text-anchor="middle" fill="#111">0.01</text>
<text x="490.2" y="510.4000000000001" font-size="10" text-anchor="middle" fill="#111">29.34</text>
<rect x="16.4" y="455.7" width="496.00" height="58.40" fill="none" stroke="#080808" stroke-width="1.45"/>
<line x1="69.4" y1="455.7" x2="69.4" y2="514.1" stroke="#080808" stroke-width="1.35"/>
<line x1="108" y1="455.7" x2="108" y2="514.1" stroke="#080808" stroke-width="1.35"/>
<line x1="152.5" y1="455.7" x2="152.5" y2="514.1" stroke="#080808" stroke-width="1.35"/>
<line x1="196.6" y1="455.7" x2="196.6" y2="514.1" stroke="#080808" stroke-width="1.35"/>
<line x1="241.2" y1="455.7" x2="241.2" y2="514.1" stroke="#080808" stroke-width="1.35"/>
<line x1="285.8" y1="455.7" x2="285.8" y2="514.1" stroke="#080808" stroke-width="1.35"/>
<line x1="334.1" y1="455.7" x2="334.1" y2="514.1" stroke="#080808" stroke-width="1.35"/>
<line x1="378.9" y1="455.7" x2="378.9" y2="514.1" stroke="#080808" stroke-width="1.35"/>
<line x1="423.8" y1="455.7" x2="423.8" y2="514.1" stroke="#080808" stroke-width="1.35"/>
<line x1="468" y1="455.7" x2="468" y2="514.1" stroke="#080808" stroke-width="1.35"/>
<line x1="69.4" y1="470.3" x2="512.4" y2="470.3" stroke="#080808" stroke-width="1.35"/>
<line x1="69.4" y1="484.90000000000003" x2="512.4" y2="484.90000000000003" stroke="#080808" stroke-width="1.35"/>
<line x1="69.4" y1="499.50000000000006" x2="512.4" y2="499.50000000000006" stroke="#080808" stroke-width="1.35"/>
<rect x="152.5" y="527.8" width="44.10" height="14.60" fill="#cbcbcb"/>
<rect x="196.6" y="527.8" width="44.60" height="14.60" fill="#cbcbcb"/>
<rect x="241.2" y="527.8" width="44.60" height="14.60" fill="#cbcbcb"/>
<rect x="285.8" y="527.8" width="48.30" height="14.60" fill="#cbcbcb"/>
<rect x="334.1" y="527.8" width="44.80" height="14.60" fill="#cbcbcb"/>
<rect x="378.9" y="527.8" width="44.90" height="14.60" fill="#cbcbcb"/>
<rect x="152.5" y="542.4" width="44.10" height="14.30" fill="#cbcbcb"/>
<rect x="196.6" y="542.4" width="44.60" height="14.30" fill="#cbcbcb"/>
<rect x="241.2" y="542.4" width="44.60" height="14.30" fill="#cbcbcb"/>
<rect x="285.8" y="542.4" width="48.30" height="14.30" fill="#cbcbcb"/>
<rect x="152.5" y="556.6999999999999" width="44.10" height="14.50" fill="#cbcbcb"/>
<rect x="196.6" y="556.6999999999999" width="44.60" height="14.50" fill="#cbcbcb"/>
<rect x="241.2" y="556.6999999999999" width="44.60" height="14.50" fill="#cbcbcb"/>
<rect x="285.8" y="556.6999999999999" width="48.30" height="14.50" fill="#cbcbcb"/>
<rect x="152.5" y="571.1999999999999" width="44.10" height="14.80" fill="#cbcbcb"/>
<rect x="196.6" y="571.1999999999999" width="44.60" height="14.80" fill="#cbcbcb"/>
<rect x="241.2" y="571.1999999999999" width="44.60" height="14.80" fill="#cbcbcb"/>
<rect x="285.8" y="571.1999999999999" width="48.30" height="14.80" fill="#cbcbcb"/>
<text x="42.900000000000006" y="560.4999999999999" font-size="10" text-anchor="middle" font-weight="bold" fill="#111">LCH</text>
<text x="88.7" y="538.6999999999999" font-size="10" text-anchor="middle" font-style="italic" fill="#111">A2951</text>
<text x="130.25" y="538.6999999999999" font-size="10" text-anchor="middle" fill="#111">0.00</text>
<text x="174.55" y="538.6999999999999" font-size="10" text-anchor="middle" fill="#111">4.82</text>
<text x="218.89999999999998" y="538.6999999999999" font-size="10" text-anchor="middle" fill="#111">45.61</text>
<text x="263.5" y="538.6999999999999" font-size="10" text-anchor="middle" fill="#111">4.96</text>
<text x="309.95000000000005" y="538.6999999999999" font-size="10" text-anchor="middle" fill="#111">0.90</text>
<text x="356.5" y="538.6999999999999" font-size="10" text-anchor="middle" fill="#111">0.03</text>
<text x="401.35" y="538.6999999999999" font-size="10" text-anchor="middle" fill="#111">0.16</text>
<text x="445.9" y="538.6999999999999" font-size="10" text-anchor="middle" fill="#111">0.00</text>
<text x="490.2" y="538.6999999999999" font-size="10" text-anchor="middle" fill="#111">N/A</text>
<text x="88.7" y="553.15" font-size="10" text-anchor="middle" font-weight="bold" fill="#111">A7495</text>
<text x="130.25" y="553.15" font-size="10" text-anchor="middle" fill="#111">0.00</text>
<text x="174.55" y="553.15" font-size="10" text-anchor="middle" fill="#111">17.74</text>
<text x="218.89999999999998" y="553.15" font-size="10" text-anchor="middle" fill="#111">39.48</text>
<text x="263.5" y="553.15" font-size="10" text-anchor="middle" fill="#111">7.94</text>
<text x="309.95000000000005" y="553.15" font-size="10" text-anchor="middle" fill="#111">1.04</text>
<text x="356.5" y="553.15" font-size="10" text-anchor="middle" fill="#111">0.00</text>
<text x="401.35" y="553.15" font-size="10" text-anchor="middle" fill="#111">0.00</text>
<text x="445.9" y="553.15" font-size="10" text-anchor="middle" fill="#111">0.00</text>
<text x="490.2" y="553.15" font-size="10" text-anchor="middle" fill="#111">N/A</text>
<text x="88.7" y="567.55" font-size="10" text-anchor="middle" font-style="italic" fill="#111">A7646<tspan font-size="7.5" dy="-2.8">*</tspan></text>
<text x="130.25" y="567.55" font-size="10" text-anchor="middle" fill="#111">0.00</text>
<text x="174.55" y="567.55" font-size="10" text-anchor="middle" fill="#111">1.70</text>
<text x="218.89999999999998" y="567.55" font-size="10" text-anchor="middle" fill="#111">2.66</text>
<text x="263.5" y="567.55" font-size="10" text-anchor="middle" fill="#111">1.15</text>
<text x="309.95000000000005" y="567.55" font-size="10" text-anchor="middle" fill="#111">0.22</text>
<text x="356.5" y="567.55" font-size="10" text-anchor="middle" fill="#111">0.00</text>
<text x="401.35" y="567.55" font-size="10" text-anchor="middle" fill="#111">0.10</text>
<text x="445.9" y="567.55" font-size="10" text-anchor="middle" fill="#111">0.00</text>
<text x="490.2" y="567.55" font-size="10" text-anchor="middle" fill="#111">N/A</text>
<text x="88.7" y="582.1999999999999" font-size="10" text-anchor="middle" font-style="italic" fill="#111">A7908<tspan font-size="7.5" dy="-2.8">*</tspan></text>
<text x="130.25" y="582.1999999999999" font-size="10" text-anchor="middle" fill="#111">0.00</text>
<text x="174.55" y="582.1999999999999" font-size="10" text-anchor="middle" fill="#111">20.07</text>
<text x="218.89999999999998" y="582.1999999999999" font-size="10" text-anchor="middle" fill="#111">41.75</text>
<text x="263.5" y="582.1999999999999" font-size="10" text-anchor="middle" fill="#111">13.75</text>
<text x="309.95000000000005" y="582.1999999999999" font-size="10" text-anchor="middle" fill="#111">1.88</text>
<text x="356.5" y="582.1999999999999" font-size="10" text-anchor="middle" fill="#111">0.00</text>
<text x="401.35" y="582.1999999999999" font-size="10" text-anchor="middle" fill="#111">0.00</text>
<text x="445.9" y="582.1999999999999" font-size="10" text-anchor="middle" fill="#111">NT</text>
<text x="490.2" y="582.1999999999999" font-size="10" text-anchor="middle" fill="#111">N/A</text>
<rect x="16.4" y="527.8" width="496.00" height="58.20" fill="none" stroke="#080808" stroke-width="1.45"/>
<line x1="69.4" y1="527.8" x2="69.4" y2="585.9999999999999" stroke="#080808" stroke-width="1.35"/>
<line x1="108" y1="527.8" x2="108" y2="585.9999999999999" stroke="#080808" stroke-width="1.35"/>
<line x1="152.5" y1="527.8" x2="152.5" y2="585.9999999999999" stroke="#080808" stroke-width="1.35"/>
<line x1="196.6" y1="527.8" x2="196.6" y2="585.9999999999999" stroke="#080808" stroke-width="1.35"/>
<line x1="241.2" y1="527.8" x2="241.2" y2="585.9999999999999" stroke="#080808" stroke-width="1.35"/>
<line x1="285.8" y1="527.8" x2="285.8" y2="585.9999999999999" stroke="#080808" stroke-width="1.35"/>
<line x1="334.1" y1="527.8" x2="334.1" y2="585.9999999999999" stroke="#080808" stroke-width="1.35"/>
<line x1="378.9" y1="527.8" x2="378.9" y2="585.9999999999999" stroke="#080808" stroke-width="1.35"/>
<line x1="423.8" y1="527.8" x2="423.8" y2="585.9999999999999" stroke="#080808" stroke-width="1.35"/>
<line x1="468" y1="527.8" x2="468" y2="585.9999999999999" stroke="#080808" stroke-width="1.35"/>
<line x1="69.4" y1="542.4" x2="512.4" y2="542.4" stroke="#080808" stroke-width="1.35"/>
<line x1="69.4" y1="556.6999999999999" x2="512.4" y2="556.6999999999999" stroke="#080808" stroke-width="1.35"/>
<line x1="69.4" y1="571.1999999999999" x2="512.4" y2="571.1999999999999" stroke="#080808" stroke-width="1.35"/>
<rect x="152.5" y="599.0" width="44.10" height="14.80" fill="#cbcbcb"/>
<rect x="196.6" y="599.0" width="44.60" height="14.80" fill="#cbcbcb"/>
<rect x="241.2" y="599.0" width="44.60" height="14.80" fill="#cbcbcb"/>
<rect x="285.8" y="599.0" width="48.30" height="14.80" fill="#cbcbcb"/>
<rect x="152.5" y="613.8" width="44.10" height="14.60" fill="#cbcbcb"/>
<rect x="196.6" y="613.8" width="44.60" height="14.60" fill="#cbcbcb"/>
<rect x="241.2" y="613.8" width="44.60" height="14.60" fill="#cbcbcb"/>
<rect x="152.5" y="628.4" width="44.10" height="14.20" fill="#cbcbcb"/>
<rect x="196.6" y="628.4" width="44.60" height="14.20" fill="#cbcbcb"/>
<rect x="241.2" y="628.4" width="44.60" height="14.20" fill="#cbcbcb"/>
<text x="42.900000000000006" y="624.4" font-size="10" text-anchor="middle" font-weight="bold" fill="#111">LCH/ECD</text>
<text x="88.7" y="610.0" font-size="10" text-anchor="middle" font-style="italic" fill="#111">A2712</text>
<text x="130.25" y="610.0" font-size="10" text-anchor="middle" fill="#111">0.00</text>
<text x="174.55" y="610.0" font-size="10" text-anchor="middle" fill="#111">0.14</text>
<text x="218.89999999999998" y="610.0" font-size="10" text-anchor="middle" fill="#111">4.07</text>
<text x="263.5" y="610.0" font-size="10" text-anchor="middle" fill="#111">0.11</text>
<text x="309.95000000000005" y="610.0" font-size="10" text-anchor="middle" fill="#111">0.06</text>
<text x="356.5" y="610.0" font-size="10" text-anchor="middle" fill="#111">&lt;0.01</text>
<text x="401.35" y="610.0" font-size="10" text-anchor="middle" fill="#111">0.00</text>
<text x="445.9" y="610.0" font-size="10" text-anchor="middle" fill="#111">0.00</text>
<text x="490.2" y="610.0" font-size="10" text-anchor="middle" fill="#111">N/A</text>
<text x="88.7" y="624.6999999999999" font-size="10" text-anchor="middle" font-weight="bold" fill="#111">A7502</text>
<text x="130.25" y="624.6999999999999" font-size="10" text-anchor="middle" fill="#111">0.00</text>
<text x="174.55" y="624.6999999999999" font-size="10" text-anchor="middle" fill="#111">0.17</text>
<text x="218.89999999999998" y="624.6999999999999" font-size="10" text-anchor="middle" fill="#111">0.20</text>
<text x="263.5" y="624.6999999999999" font-size="10" text-anchor="middle" fill="#111">0.08</text>
<text x="309.95000000000005" y="624.6999999999999" font-size="10" text-anchor="middle" fill="#111">0.00</text>
<text x="356.5" y="624.6999999999999" font-size="10" text-anchor="middle" fill="#111">0.00</text>
<text x="401.35" y="624.6999999999999" font-size="10" text-anchor="middle" fill="#111">0.00</text>
<text x="445.9" y="624.6999999999999" font-size="10" text-anchor="middle" fill="#111">0.00</text>
<text x="490.2" y="624.6999999999999" font-size="10" text-anchor="middle" fill="#111">N/A</text>
<text x="88.7" y="639.1" font-size="10" text-anchor="middle" font-weight="bold" fill="#111">A7791</text>
<text x="130.25" y="639.1" font-size="10" text-anchor="middle" fill="#111">0.00</text>
<text x="174.55" y="639.1" font-size="10" text-anchor="middle" fill="#111">0.20</text>
<text x="218.89999999999998" y="639.1" font-size="10" text-anchor="middle" fill="#111">0.71</text>
<text x="263.5" y="639.1" font-size="10" text-anchor="middle" fill="#111">0.23</text>
<text x="309.95000000000005" y="639.1" font-size="10" text-anchor="middle" fill="#111">0.00</text>
<text x="356.5" y="639.1" font-size="10" text-anchor="middle" fill="#111">0.00</text>
<text x="401.35" y="639.1" font-size="10" text-anchor="middle" fill="#111">0.00</text>
<text x="445.9" y="639.1" font-size="10" text-anchor="middle" fill="#111">0.00</text>
<text x="490.2" y="639.1" font-size="10" text-anchor="middle" fill="#111">N/A</text>
<rect x="16.4" y="599.0" width="496.00" height="43.60" fill="none" stroke="#080808" stroke-width="1.45"/>
<line x1="69.4" y1="599.0" x2="69.4" y2="642.6" stroke="#080808" stroke-width="1.35"/>
<line x1="108" y1="599.0" x2="108" y2="642.6" stroke="#080808" stroke-width="1.35"/>
<line x1="152.5" y1="599.0" x2="152.5" y2="642.6" stroke="#080808" stroke-width="1.35"/>
<line x1="196.6" y1="599.0" x2="196.6" y2="642.6" stroke="#080808" stroke-width="1.35"/>
<line x1="241.2" y1="599.0" x2="241.2" y2="642.6" stroke="#080808" stroke-width="1.35"/>
<line x1="285.8" y1="599.0" x2="285.8" y2="642.6" stroke="#080808" stroke-width="1.35"/>
<line x1="334.1" y1="599.0" x2="334.1" y2="642.6" stroke="#080808" stroke-width="1.35"/>
<line x1="378.9" y1="599.0" x2="378.9" y2="642.6" stroke="#080808" stroke-width="1.35"/>
<line x1="423.8" y1="599.0" x2="423.8" y2="642.6" stroke="#080808" stroke-width="1.35"/>
<line x1="468" y1="599.0" x2="468" y2="642.6" stroke="#080808" stroke-width="1.35"/>
<line x1="69.4" y1="613.8" x2="512.4" y2="613.8" stroke="#080808" stroke-width="1.35"/>
<line x1="69.4" y1="628.4" x2="512.4" y2="628.4" stroke="#080808" stroke-width="1.35"/>
<rect x="152.5" y="656.2" width="44.10" height="14.20" fill="#cbcbcb"/>
<rect x="196.6" y="656.2" width="44.60" height="14.20" fill="#cbcbcb"/>
<rect x="241.2" y="656.2" width="44.60" height="14.20" fill="#cbcbcb"/>
<rect x="152.5" y="670.4000000000001" width="44.10" height="14.80" fill="#cbcbcb"/>
<rect x="196.6" y="670.4000000000001" width="44.60" height="14.80" fill="#cbcbcb"/>
<rect x="241.2" y="670.4000000000001" width="44.60" height="14.80" fill="#cbcbcb"/>
<rect x="152.5" y="685.2" width="44.10" height="14.80" fill="#cbcbcb"/>
<rect x="196.6" y="685.2" width="44.60" height="14.80" fill="#cbcbcb"/>
<rect x="196.6" y="700.0" width="44.60" height="14.00" fill="#cbcbcb"/>
<text x="42.900000000000006" y="688.7" font-size="10" text-anchor="middle" font-weight="bold" fill="#111">ECD</text>
<text x="88.7" y="666.9000000000001" font-size="10" text-anchor="middle" font-style="italic" fill="#111">A7348</text>
<text x="130.25" y="666.9000000000001" font-size="10" text-anchor="middle" fill="#111">NT</text>
<text x="174.55" y="666.9000000000001" font-size="10" text-anchor="middle" fill="#111">0.38</text>
<text x="218.89999999999998" y="666.9000000000001" font-size="10" text-anchor="middle" fill="#111">1.36</text>
<text x="263.5" y="666.9000000000001" font-size="10" text-anchor="middle" fill="#111">1.63</text>
<text x="309.95000000000005" y="666.9000000000001" font-size="10" text-anchor="middle" fill="#111">0.00</text>
<text x="356.5" y="666.9000000000001" font-size="10" text-anchor="middle" fill="#111">0.00</text>
<text x="401.35" y="666.9000000000001" font-size="10" text-anchor="middle" fill="#111">0.00</text>
<text x="445.9" y="666.9000000000001" font-size="10" text-anchor="middle" fill="#111">0.00</text>
<text x="490.2" y="666.9000000000001" font-size="10" text-anchor="middle" fill="#111">N/A</text>
<text x="88.7" y="681.4000000000001" font-size="10" text-anchor="middle" font-style="italic" fill="#111">A7349</text>
<text x="130.25" y="681.4000000000001" font-size="10" text-anchor="middle" fill="#111">NT</text>
<text x="174.55" y="681.4000000000001" font-size="10" text-anchor="middle" fill="#111">1.42</text>
<text x="218.89999999999998" y="681.4000000000001" font-size="10" text-anchor="middle" fill="#111">0.47</text>
<text x="263.5" y="681.4000000000001" font-size="10" text-anchor="middle" fill="#111">1.06</text>
<text x="309.95000000000005" y="681.4000000000001" font-size="10" text-anchor="middle" fill="#111">0.00</text>
<text x="356.5" y="681.4000000000001" font-size="10" text-anchor="middle" fill="#111">0.00</text>
<text x="401.35" y="681.4000000000001" font-size="10" text-anchor="middle" fill="#111">0.00</text>
<text x="445.9" y="681.4000000000001" font-size="10" text-anchor="middle" fill="#111">0.00</text>
<text x="490.2" y="681.4000000000001" font-size="10" text-anchor="middle" fill="#111">N/A</text>
<text x="88.7" y="696.2" font-size="10" text-anchor="middle" font-style="italic" fill="#111">A7640</text>
<text x="130.25" y="696.2" font-size="10" text-anchor="middle" fill="#111">0.00</text>
<text x="174.55" y="696.2" font-size="10" text-anchor="middle" fill="#111">0.08</text>
<text x="218.89999999999998" y="696.2" font-size="10" text-anchor="middle" fill="#111">0.16</text>
<text x="263.5" y="696.2" font-size="10" text-anchor="middle" fill="#111">0.00</text>
<text x="309.95000000000005" y="696.2" font-size="10" text-anchor="middle" fill="#111">0.00</text>
<text x="356.5" y="696.2" font-size="10" text-anchor="middle" fill="#111">0.00</text>
<text x="401.35" y="696.2" font-size="10" text-anchor="middle" fill="#111">0.00</text>
<text x="445.9" y="696.2" font-size="10" text-anchor="middle" fill="#111">0.00</text>
<text x="490.2" y="696.2" font-size="10" text-anchor="middle" fill="#111">N/A</text>
<text x="88.7" y="710.6" font-size="10" text-anchor="middle" font-weight="bold" fill="#111">A7343</text>
<text x="130.25" y="710.6" font-size="10" text-anchor="middle" fill="#111">NT</text>
<text x="174.55" y="710.6" font-size="10" text-anchor="middle" fill="#111">0.00</text>
<text x="218.89999999999998" y="710.6" font-size="10" text-anchor="middle" fill="#111">0.07</text>
<text x="263.5" y="710.6" font-size="10" text-anchor="middle" fill="#111">0.00</text>
<text x="309.95000000000005" y="710.6" font-size="10" text-anchor="middle" fill="#111">0.00</text>
<text x="356.5" y="710.6" font-size="10" text-anchor="middle" fill="#111">NT</text>
<text x="401.35" y="710.6" font-size="10" text-anchor="middle" fill="#111">0.00</text>
<text x="445.9" y="710.6" font-size="10" text-anchor="middle" fill="#111">0.00</text>
<text x="490.2" y="710.6" font-size="10" text-anchor="middle" fill="#111">N/A</text>
<rect x="16.4" y="656.2" width="496.00" height="57.80" fill="none" stroke="#080808" stroke-width="1.45"/>
<line x1="69.4" y1="656.2" x2="69.4" y2="714.0" stroke="#080808" stroke-width="1.35"/>
<line x1="108" y1="656.2" x2="108" y2="714.0" stroke="#080808" stroke-width="1.35"/>
<line x1="152.5" y1="656.2" x2="152.5" y2="714.0" stroke="#080808" stroke-width="1.35"/>
<line x1="196.6" y1="656.2" x2="196.6" y2="714.0" stroke="#080808" stroke-width="1.35"/>
<line x1="241.2" y1="656.2" x2="241.2" y2="714.0" stroke="#080808" stroke-width="1.35"/>
<line x1="285.8" y1="656.2" x2="285.8" y2="714.0" stroke="#080808" stroke-width="1.35"/>
<line x1="334.1" y1="656.2" x2="334.1" y2="714.0" stroke="#080808" stroke-width="1.35"/>
<line x1="378.9" y1="656.2" x2="378.9" y2="714.0" stroke="#080808" stroke-width="1.35"/>
<line x1="423.8" y1="656.2" x2="423.8" y2="714.0" stroke="#080808" stroke-width="1.35"/>
<line x1="468" y1="656.2" x2="468" y2="714.0" stroke="#080808" stroke-width="1.35"/>
<line x1="69.4" y1="670.4000000000001" x2="512.4" y2="670.4000000000001" stroke="#080808" stroke-width="1.35"/>
<line x1="69.4" y1="685.2" x2="512.4" y2="685.2" stroke="#080808" stroke-width="1.35"/>
<line x1="69.4" y1="700.0" x2="512.4" y2="700.0" stroke="#080808" stroke-width="1.35"/>
</svg></body></html>
